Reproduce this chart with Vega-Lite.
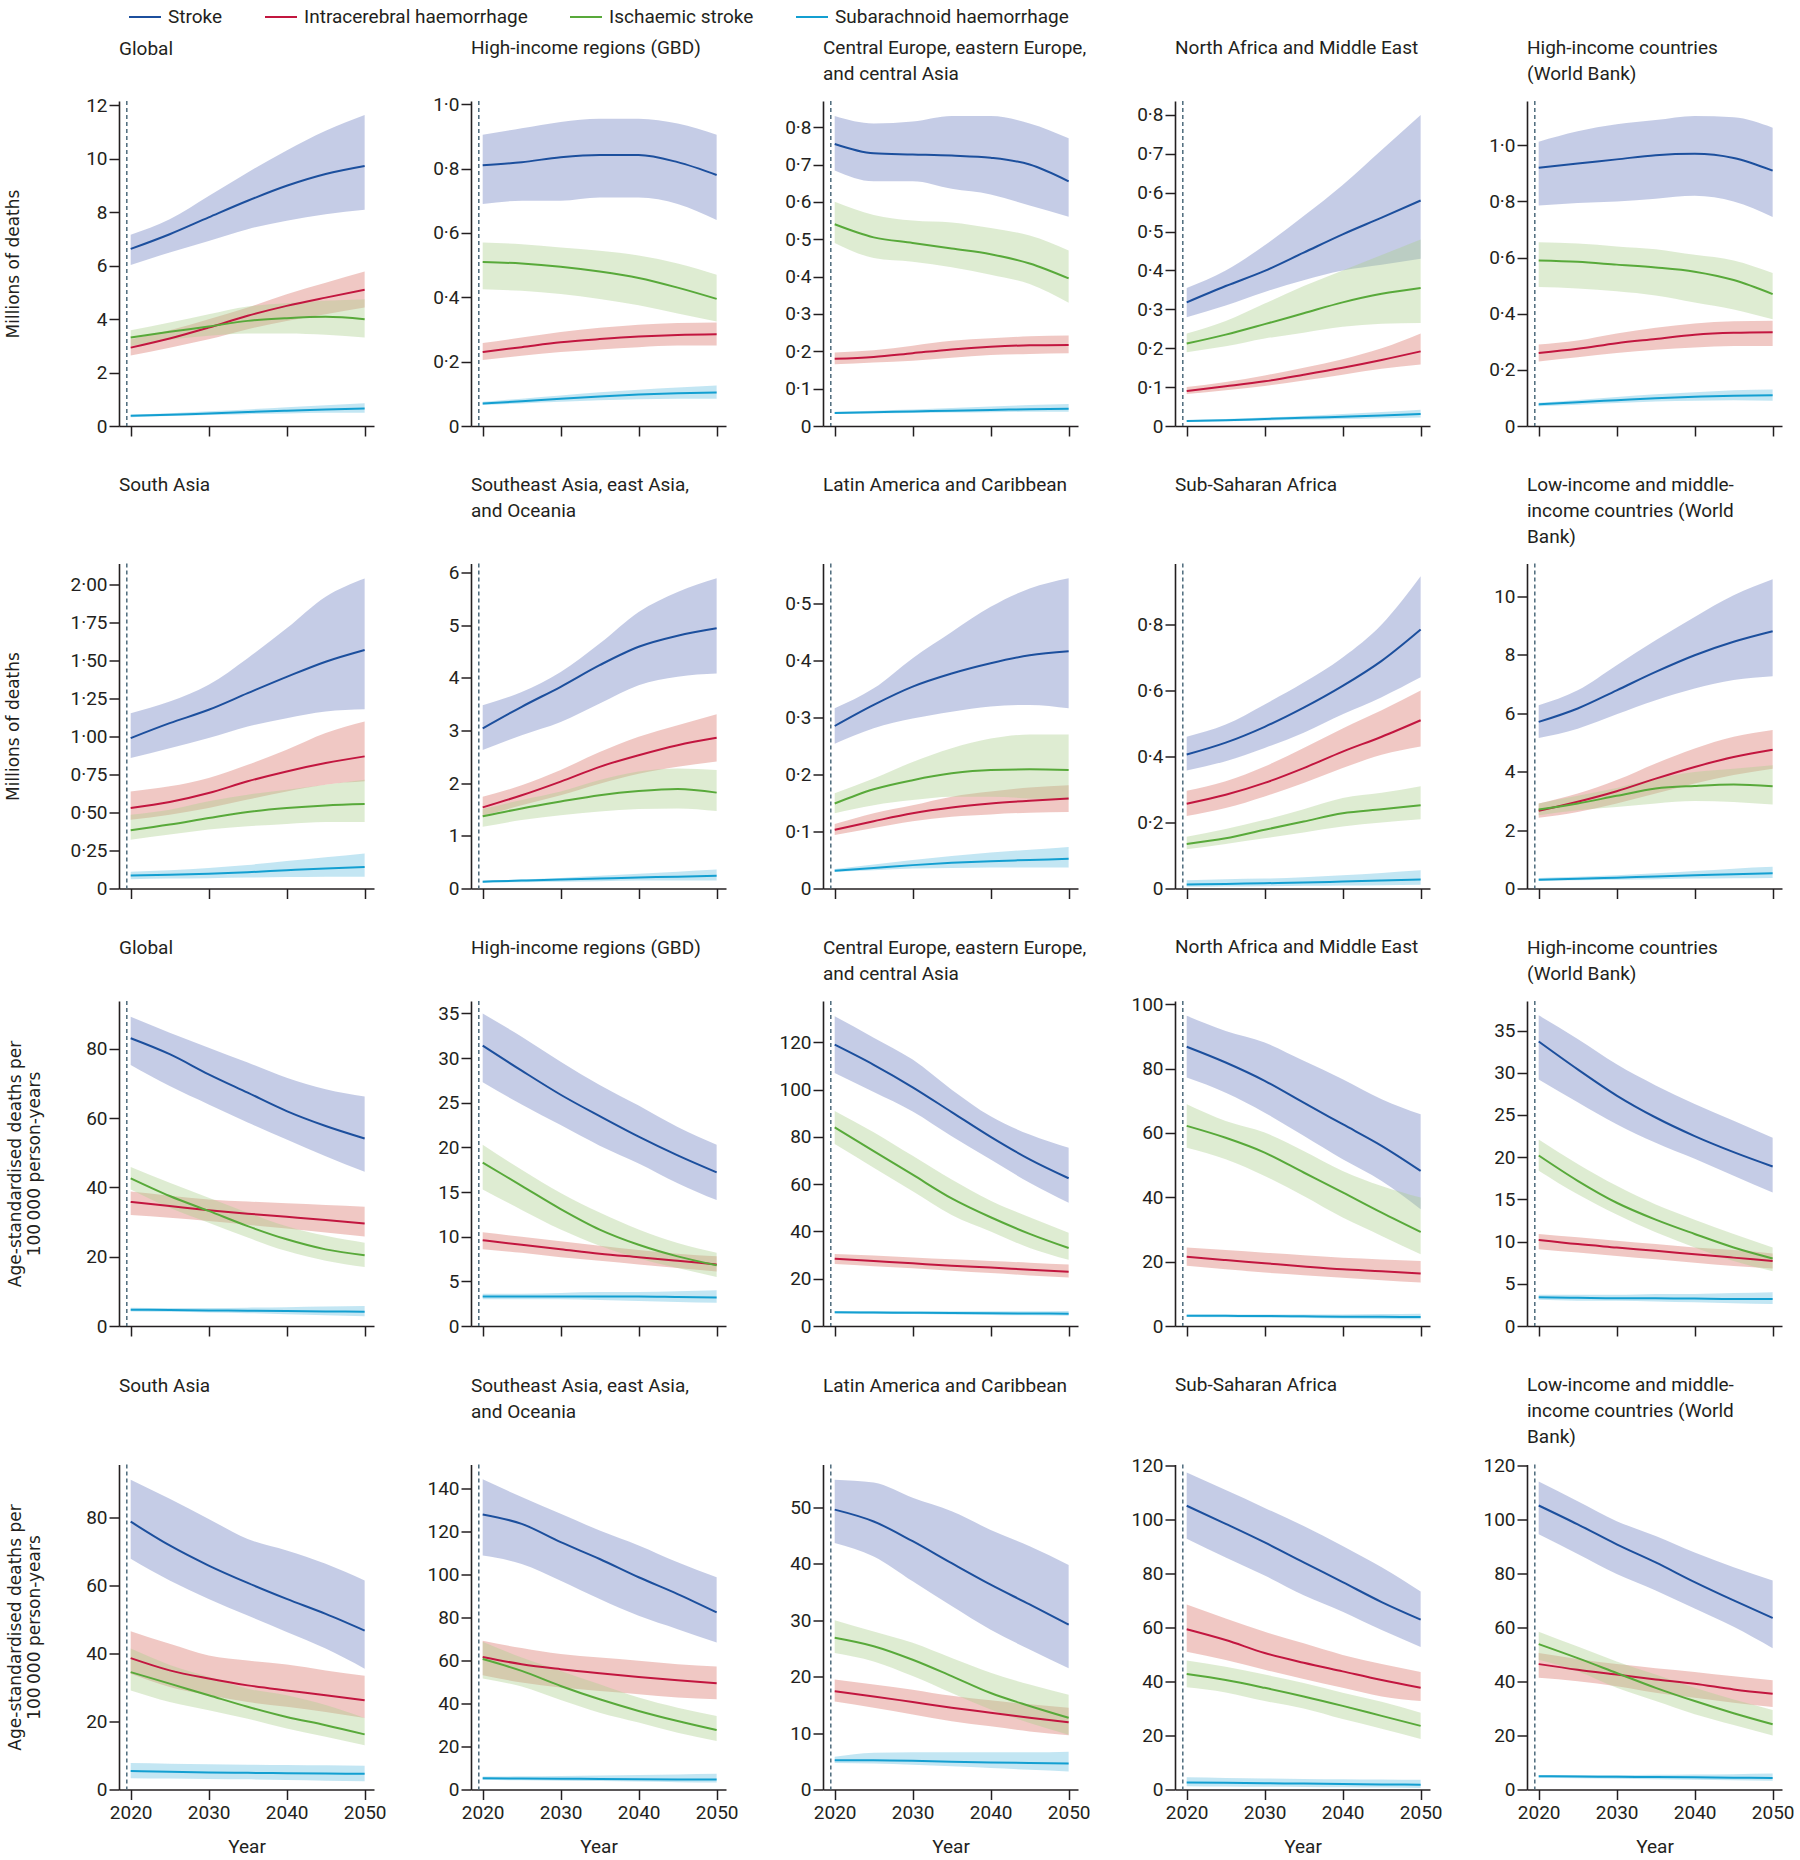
{
"$schema":"https://vega.github.io/schema/vega-lite/v6.json",
"padding":{"left":4,"top":0,"right":5,"bottom":0},
"data":{"values":[
{"panel":1,"cause":"Stroke","year":2020,"val":6.62,"lo":6.02,"hi":7.15},{"panel":1,"cause":"Stroke","year":2025,"val":7.17,"lo":6.49,"hi":7.73},{"panel":1,"cause":"Stroke","year":2030,"val":7.8,"lo":6.92,"hi":8.6},{"panel":1,"cause":"Stroke","year":2035,"val":8.42,"lo":7.36,"hi":9.48},{"panel":1,"cause":"Stroke","year":2040,"val":8.98,"lo":7.67,"hi":10.3},{"panel":1,"cause":"Stroke","year":2045,"val":9.42,"lo":7.92,"hi":11.04},{"panel":1,"cause":"Stroke","year":2050,"val":9.72,"lo":8.08,"hi":11.63},
{"panel":1,"cause":"Intracerebral haemorrhage","year":2020,"val":2.93,"lo":2.64,"hi":3.24},{"panel":1,"cause":"Intracerebral haemorrhage","year":2025,"val":3.27,"lo":2.93,"hi":3.58},{"panel":1,"cause":"Intracerebral haemorrhage","year":2030,"val":3.68,"lo":3.24,"hi":3.99},{"panel":1,"cause":"Intracerebral haemorrhage","year":2035,"val":4.12,"lo":3.62,"hi":4.43},{"panel":1,"cause":"Intracerebral haemorrhage","year":2040,"val":4.49,"lo":3.93,"hi":4.93},{"panel":1,"cause":"Intracerebral haemorrhage","year":2045,"val":4.8,"lo":4.18,"hi":5.36},{"panel":1,"cause":"Intracerebral haemorrhage","year":2050,"val":5.09,"lo":4.43,"hi":5.78},
{"panel":1,"cause":"Ischaemic stroke","year":2020,"val":3.31,"lo":2.99,"hi":3.58},{"panel":1,"cause":"Ischaemic stroke","year":2025,"val":3.52,"lo":3.22,"hi":3.87},{"panel":1,"cause":"Ischaemic stroke","year":2030,"val":3.72,"lo":3.37,"hi":4.18},{"panel":1,"cause":"Ischaemic stroke","year":2035,"val":3.93,"lo":3.46,"hi":4.47},{"panel":1,"cause":"Ischaemic stroke","year":2040,"val":4.03,"lo":3.46,"hi":4.59},{"panel":1,"cause":"Ischaemic stroke","year":2045,"val":4.08,"lo":3.41,"hi":4.68},{"panel":1,"cause":"Ischaemic stroke","year":2050,"val":3.99,"lo":3.31,"hi":4.74},
{"panel":1,"cause":"Subarachnoid haemorrhage","year":2020,"val":0.38,"lo":0.33,"hi":0.42},{"panel":1,"cause":"Subarachnoid haemorrhage","year":2025,"val":0.42,"lo":0.37,"hi":0.48},{"panel":1,"cause":"Subarachnoid haemorrhage","year":2030,"val":0.47,"lo":0.41,"hi":0.55},{"panel":1,"cause":"Subarachnoid haemorrhage","year":2035,"val":0.52,"lo":0.44,"hi":0.62},{"panel":1,"cause":"Subarachnoid haemorrhage","year":2040,"val":0.57,"lo":0.47,"hi":0.7},{"panel":1,"cause":"Subarachnoid haemorrhage","year":2045,"val":0.62,"lo":0.5,"hi":0.78},{"panel":1,"cause":"Subarachnoid haemorrhage","year":2050,"val":0.65,"lo":0.5,"hi":0.85},
{"panel":2,"cause":"Stroke","year":2020,"val":0.81,"lo":0.69,"hi":0.905},{"panel":2,"cause":"Stroke","year":2025,"val":0.82,"lo":0.7,"hi":0.925},{"panel":2,"cause":"Stroke","year":2030,"val":0.835,"lo":0.7,"hi":0.945},{"panel":2,"cause":"Stroke","year":2035,"val":0.842,"lo":0.71,"hi":0.955},{"panel":2,"cause":"Stroke","year":2040,"val":0.842,"lo":0.71,"hi":0.955},{"panel":2,"cause":"Stroke","year":2045,"val":0.82,"lo":0.69,"hi":0.94},{"panel":2,"cause":"Stroke","year":2050,"val":0.78,"lo":0.64,"hi":0.905},
{"panel":2,"cause":"Intracerebral haemorrhage","year":2020,"val":0.23,"lo":0.205,"hi":0.258},{"panel":2,"cause":"Intracerebral haemorrhage","year":2025,"val":0.245,"lo":0.218,"hi":0.275},{"panel":2,"cause":"Intracerebral haemorrhage","year":2030,"val":0.26,"lo":0.23,"hi":0.292},{"panel":2,"cause":"Intracerebral haemorrhage","year":2035,"val":0.27,"lo":0.238,"hi":0.305},{"panel":2,"cause":"Intracerebral haemorrhage","year":2040,"val":0.278,"lo":0.245,"hi":0.315},{"panel":2,"cause":"Intracerebral haemorrhage","year":2045,"val":0.283,"lo":0.25,"hi":0.32},{"panel":2,"cause":"Intracerebral haemorrhage","year":2050,"val":0.285,"lo":0.25,"hi":0.322},
{"panel":2,"cause":"Ischaemic stroke","year":2020,"val":0.51,"lo":0.425,"hi":0.57},{"panel":2,"cause":"Ischaemic stroke","year":2025,"val":0.505,"lo":0.42,"hi":0.565},{"panel":2,"cause":"Ischaemic stroke","year":2030,"val":0.495,"lo":0.41,"hi":0.555},{"panel":2,"cause":"Ischaemic stroke","year":2035,"val":0.48,"lo":0.395,"hi":0.545},{"panel":2,"cause":"Ischaemic stroke","year":2040,"val":0.46,"lo":0.375,"hi":0.53},{"panel":2,"cause":"Ischaemic stroke","year":2045,"val":0.43,"lo":0.35,"hi":0.505},{"panel":2,"cause":"Ischaemic stroke","year":2050,"val":0.395,"lo":0.325,"hi":0.47},
{"panel":2,"cause":"Subarachnoid haemorrhage","year":2020,"val":0.07,"lo":0.065,"hi":0.075},{"panel":2,"cause":"Subarachnoid haemorrhage","year":2025,"val":0.077,"lo":0.07,"hi":0.085},{"panel":2,"cause":"Subarachnoid haemorrhage","year":2030,"val":0.085,"lo":0.075,"hi":0.095},{"panel":2,"cause":"Subarachnoid haemorrhage","year":2035,"val":0.092,"lo":0.08,"hi":0.105},{"panel":2,"cause":"Subarachnoid haemorrhage","year":2040,"val":0.098,"lo":0.083,"hi":0.113},{"panel":2,"cause":"Subarachnoid haemorrhage","year":2045,"val":0.102,"lo":0.085,"hi":0.12},{"panel":2,"cause":"Subarachnoid haemorrhage","year":2050,"val":0.104,"lo":0.085,"hi":0.126},
{"panel":3,"cause":"Stroke","year":2020,"val":0.755,"lo":0.684,"hi":0.83},{"panel":3,"cause":"Stroke","year":2025,"val":0.73,"lo":0.655,"hi":0.81},{"panel":3,"cause":"Stroke","year":2030,"val":0.727,"lo":0.655,"hi":0.815},{"panel":3,"cause":"Stroke","year":2035,"val":0.724,"lo":0.635,"hi":0.83},{"panel":3,"cause":"Stroke","year":2040,"val":0.718,"lo":0.62,"hi":0.83},{"panel":3,"cause":"Stroke","year":2045,"val":0.7,"lo":0.59,"hi":0.81},{"panel":3,"cause":"Stroke","year":2050,"val":0.655,"lo":0.56,"hi":0.77},
{"panel":3,"cause":"Intracerebral haemorrhage","year":2020,"val":0.18,"lo":0.165,"hi":0.197},{"panel":3,"cause":"Intracerebral haemorrhage","year":2025,"val":0.185,"lo":0.17,"hi":0.203},{"panel":3,"cause":"Intracerebral haemorrhage","year":2030,"val":0.195,"lo":0.175,"hi":0.215},{"panel":3,"cause":"Intracerebral haemorrhage","year":2035,"val":0.205,"lo":0.183,"hi":0.228},{"panel":3,"cause":"Intracerebral haemorrhage","year":2040,"val":0.212,"lo":0.19,"hi":0.235},{"panel":3,"cause":"Intracerebral haemorrhage","year":2045,"val":0.216,"lo":0.193,"hi":0.24},{"panel":3,"cause":"Intracerebral haemorrhage","year":2050,"val":0.217,"lo":0.195,"hi":0.242},
{"panel":3,"cause":"Ischaemic stroke","year":2020,"val":0.54,"lo":0.49,"hi":0.6},{"panel":3,"cause":"Ischaemic stroke","year":2025,"val":0.505,"lo":0.45,"hi":0.565},{"panel":3,"cause":"Ischaemic stroke","year":2030,"val":0.49,"lo":0.44,"hi":0.55},{"panel":3,"cause":"Ischaemic stroke","year":2035,"val":0.475,"lo":0.425,"hi":0.545},{"panel":3,"cause":"Ischaemic stroke","year":2040,"val":0.46,"lo":0.405,"hi":0.53},{"panel":3,"cause":"Ischaemic stroke","year":2045,"val":0.435,"lo":0.38,"hi":0.51},{"panel":3,"cause":"Ischaemic stroke","year":2050,"val":0.395,"lo":0.33,"hi":0.47},
{"panel":3,"cause":"Subarachnoid haemorrhage","year":2020,"val":0.035,"lo":0.032,"hi":0.038},{"panel":3,"cause":"Subarachnoid haemorrhage","year":2025,"val":0.037,"lo":0.034,"hi":0.041},{"panel":3,"cause":"Subarachnoid haemorrhage","year":2030,"val":0.039,"lo":0.035,"hi":0.044},{"panel":3,"cause":"Subarachnoid haemorrhage","year":2035,"val":0.041,"lo":0.036,"hi":0.048},{"panel":3,"cause":"Subarachnoid haemorrhage","year":2040,"val":0.043,"lo":0.037,"hi":0.052},{"panel":3,"cause":"Subarachnoid haemorrhage","year":2045,"val":0.045,"lo":0.038,"hi":0.056},{"panel":3,"cause":"Subarachnoid haemorrhage","year":2050,"val":0.046,"lo":0.038,"hi":0.059},
{"panel":4,"cause":"Stroke","year":2020,"val":0.318,"lo":0.28,"hi":0.355},{"panel":4,"cause":"Stroke","year":2025,"val":0.36,"lo":0.31,"hi":0.4},{"panel":4,"cause":"Stroke","year":2030,"val":0.399,"lo":0.345,"hi":0.465},{"panel":4,"cause":"Stroke","year":2035,"val":0.446,"lo":0.375,"hi":0.54},{"panel":4,"cause":"Stroke","year":2040,"val":0.493,"lo":0.4,"hi":0.62},{"panel":4,"cause":"Stroke","year":2045,"val":0.536,"lo":0.415,"hi":0.71},{"panel":4,"cause":"Stroke","year":2050,"val":0.58,"lo":0.43,"hi":0.8},
{"panel":4,"cause":"Intracerebral haemorrhage","year":2020,"val":0.09,"lo":0.082,"hi":0.1},{"panel":4,"cause":"Intracerebral haemorrhage","year":2025,"val":0.102,"lo":0.092,"hi":0.113},{"panel":4,"cause":"Intracerebral haemorrhage","year":2030,"val":0.115,"lo":0.103,"hi":0.13},{"panel":4,"cause":"Intracerebral haemorrhage","year":2035,"val":0.132,"lo":0.117,"hi":0.15},{"panel":4,"cause":"Intracerebral haemorrhage","year":2040,"val":0.15,"lo":0.132,"hi":0.172},{"panel":4,"cause":"Intracerebral haemorrhage","year":2045,"val":0.17,"lo":0.147,"hi":0.2},{"panel":4,"cause":"Intracerebral haemorrhage","year":2050,"val":0.192,"lo":0.158,"hi":0.238},
{"panel":4,"cause":"Ischaemic stroke","year":2020,"val":0.212,"lo":0.19,"hi":0.238},{"panel":4,"cause":"Ischaemic stroke","year":2025,"val":0.235,"lo":0.205,"hi":0.27},{"panel":4,"cause":"Ischaemic stroke","year":2030,"val":0.262,"lo":0.225,"hi":0.315},{"panel":4,"cause":"Ischaemic stroke","year":2035,"val":0.29,"lo":0.24,"hi":0.36},{"panel":4,"cause":"Ischaemic stroke","year":2040,"val":0.318,"lo":0.255,"hi":0.4},{"panel":4,"cause":"Ischaemic stroke","year":2045,"val":0.34,"lo":0.263,"hi":0.44},{"panel":4,"cause":"Ischaemic stroke","year":2050,"val":0.355,"lo":0.265,"hi":0.48},
{"panel":4,"cause":"Subarachnoid haemorrhage","year":2020,"val":0.013,"lo":0.011,"hi":0.015},{"panel":4,"cause":"Subarachnoid haemorrhage","year":2025,"val":0.015,"lo":0.012,"hi":0.018},{"panel":4,"cause":"Subarachnoid haemorrhage","year":2030,"val":0.018,"lo":0.014,"hi":0.022},{"panel":4,"cause":"Subarachnoid haemorrhage","year":2035,"val":0.021,"lo":0.016,"hi":0.026},{"panel":4,"cause":"Subarachnoid haemorrhage","year":2040,"val":0.024,"lo":0.018,"hi":0.031},{"panel":4,"cause":"Subarachnoid haemorrhage","year":2045,"val":0.027,"lo":0.02,"hi":0.036},{"panel":4,"cause":"Subarachnoid haemorrhage","year":2050,"val":0.031,"lo":0.022,"hi":0.042},
{"panel":5,"cause":"Stroke","year":2020,"val":0.92,"lo":0.786,"hi":1.013},{"panel":5,"cause":"Stroke","year":2025,"val":0.935,"lo":0.795,"hi":1.05},{"panel":5,"cause":"Stroke","year":2030,"val":0.95,"lo":0.8,"hi":1.075},{"panel":5,"cause":"Stroke","year":2035,"val":0.965,"lo":0.81,"hi":1.09},{"panel":5,"cause":"Stroke","year":2040,"val":0.97,"lo":0.82,"hi":1.105},{"panel":5,"cause":"Stroke","year":2045,"val":0.955,"lo":0.8,"hi":1.1},{"panel":5,"cause":"Stroke","year":2050,"val":0.91,"lo":0.745,"hi":1.063},
{"panel":5,"cause":"Intracerebral haemorrhage","year":2020,"val":0.26,"lo":0.23,"hi":0.29},{"panel":5,"cause":"Intracerebral haemorrhage","year":2025,"val":0.275,"lo":0.245,"hi":0.305},{"panel":5,"cause":"Intracerebral haemorrhage","year":2030,"val":0.295,"lo":0.26,"hi":0.33},{"panel":5,"cause":"Intracerebral haemorrhage","year":2035,"val":0.31,"lo":0.272,"hi":0.35},{"panel":5,"cause":"Intracerebral haemorrhage","year":2040,"val":0.325,"lo":0.28,"hi":0.365},{"panel":5,"cause":"Intracerebral haemorrhage","year":2045,"val":0.332,"lo":0.285,"hi":0.373},{"panel":5,"cause":"Intracerebral haemorrhage","year":2050,"val":0.334,"lo":0.285,"hi":0.375},
{"panel":5,"cause":"Ischaemic stroke","year":2020,"val":0.59,"lo":0.495,"hi":0.655},{"panel":5,"cause":"Ischaemic stroke","year":2025,"val":0.585,"lo":0.49,"hi":0.65},{"panel":5,"cause":"Ischaemic stroke","year":2030,"val":0.575,"lo":0.48,"hi":0.64},{"panel":5,"cause":"Ischaemic stroke","year":2035,"val":0.565,"lo":0.465,"hi":0.63},{"panel":5,"cause":"Ischaemic stroke","year":2040,"val":0.55,"lo":0.44,"hi":0.61},{"panel":5,"cause":"Ischaemic stroke","year":2045,"val":0.52,"lo":0.415,"hi":0.59},{"panel":5,"cause":"Ischaemic stroke","year":2050,"val":0.47,"lo":0.38,"hi":0.545},
{"panel":5,"cause":"Subarachnoid haemorrhage","year":2020,"val":0.077,"lo":0.07,"hi":0.083},{"panel":5,"cause":"Subarachnoid haemorrhage","year":2025,"val":0.085,"lo":0.076,"hi":0.093},{"panel":5,"cause":"Subarachnoid haemorrhage","year":2030,"val":0.092,"lo":0.082,"hi":0.103},{"panel":5,"cause":"Subarachnoid haemorrhage","year":2035,"val":0.099,"lo":0.087,"hi":0.113},{"panel":5,"cause":"Subarachnoid haemorrhage","year":2040,"val":0.104,"lo":0.09,"hi":0.12},{"panel":5,"cause":"Subarachnoid haemorrhage","year":2045,"val":0.108,"lo":0.092,"hi":0.127},{"panel":5,"cause":"Subarachnoid haemorrhage","year":2050,"val":0.11,"lo":0.09,"hi":0.13},
{"panel":6,"cause":"Stroke","year":2020,"val":0.988,"lo":0.857,"hi":1.152},{"panel":6,"cause":"Stroke","year":2025,"val":1.086,"lo":0.922,"hi":1.228},{"panel":6,"cause":"Stroke","year":2030,"val":1.174,"lo":0.988,"hi":1.338},{"panel":6,"cause":"Stroke","year":2035,"val":1.283,"lo":1.064,"hi":1.513},{"panel":6,"cause":"Stroke","year":2040,"val":1.39,"lo":1.119,"hi":1.709},{"panel":6,"cause":"Stroke","year":2045,"val":1.49,"lo":1.163,"hi":1.917},{"panel":6,"cause":"Stroke","year":2050,"val":1.567,"lo":1.178,"hi":2.037},
{"panel":6,"cause":"Intracerebral haemorrhage","year":2020,"val":0.529,"lo":0.452,"hi":0.638},{"panel":6,"cause":"Intracerebral haemorrhage","year":2025,"val":0.568,"lo":0.485,"hi":0.671},{"panel":6,"cause":"Intracerebral haemorrhage","year":2030,"val":0.627,"lo":0.529,"hi":0.726},{"panel":6,"cause":"Intracerebral haemorrhage","year":2035,"val":0.704,"lo":0.584,"hi":0.813},{"panel":6,"cause":"Intracerebral haemorrhage","year":2040,"val":0.769,"lo":0.638,"hi":0.911},{"panel":6,"cause":"Intracerebral haemorrhage","year":2045,"val":0.824,"lo":0.682,"hi":1.021},{"panel":6,"cause":"Intracerebral haemorrhage","year":2050,"val":0.868,"lo":0.704,"hi":1.097},
{"panel":6,"cause":"Ischaemic stroke","year":2020,"val":0.383,"lo":0.321,"hi":0.485},{"panel":6,"cause":"Ischaemic stroke","year":2025,"val":0.42,"lo":0.354,"hi":0.518},{"panel":6,"cause":"Ischaemic stroke","year":2030,"val":0.463,"lo":0.387,"hi":0.573},{"panel":6,"cause":"Ischaemic stroke","year":2035,"val":0.503,"lo":0.409,"hi":0.616},{"panel":6,"cause":"Ischaemic stroke","year":2040,"val":0.529,"lo":0.424,"hi":0.649},{"panel":6,"cause":"Ischaemic stroke","year":2045,"val":0.546,"lo":0.437,"hi":0.682},{"panel":6,"cause":"Ischaemic stroke","year":2050,"val":0.555,"lo":0.437,"hi":0.715},
{"panel":6,"cause":"Subarachnoid haemorrhage","year":2020,"val":0.085,"lo":0.06,"hi":0.11},{"panel":6,"cause":"Subarachnoid haemorrhage","year":2025,"val":0.09,"lo":0.065,"hi":0.12},{"panel":6,"cause":"Subarachnoid haemorrhage","year":2030,"val":0.097,"lo":0.068,"hi":0.135},{"panel":6,"cause":"Subarachnoid haemorrhage","year":2035,"val":0.107,"lo":0.072,"hi":0.155},{"panel":6,"cause":"Subarachnoid haemorrhage","year":2040,"val":0.12,"lo":0.075,"hi":0.18},{"panel":6,"cause":"Subarachnoid haemorrhage","year":2045,"val":0.132,"lo":0.077,"hi":0.205},{"panel":6,"cause":"Subarachnoid haemorrhage","year":2050,"val":0.142,"lo":0.078,"hi":0.23},
{"panel":7,"cause":"Stroke","year":2020,"val":3.04,"lo":2.63,"hi":3.48},{"panel":7,"cause":"Stroke","year":2025,"val":3.45,"lo":2.91,"hi":3.73},{"panel":7,"cause":"Stroke","year":2030,"val":3.83,"lo":3.16,"hi":4.11},{"panel":7,"cause":"Stroke","year":2035,"val":4.24,"lo":3.51,"hi":4.65},{"panel":7,"cause":"Stroke","year":2040,"val":4.59,"lo":3.86,"hi":5.25},{"panel":7,"cause":"Stroke","year":2045,"val":4.8,"lo":4.02,"hi":5.63},{"panel":7,"cause":"Stroke","year":2050,"val":4.94,"lo":4.08,"hi":5.89},
{"panel":7,"cause":"Intracerebral haemorrhage","year":2020,"val":1.54,"lo":1.38,"hi":1.74},{"panel":7,"cause":"Intracerebral haemorrhage","year":2025,"val":1.77,"lo":1.58,"hi":1.96},{"panel":7,"cause":"Intracerebral haemorrhage","year":2030,"val":2.03,"lo":1.77,"hi":2.25},{"panel":7,"cause":"Intracerebral haemorrhage","year":2035,"val":2.31,"lo":1.99,"hi":2.59},{"panel":7,"cause":"Intracerebral haemorrhage","year":2040,"val":2.53,"lo":2.18,"hi":2.88},{"panel":7,"cause":"Intracerebral haemorrhage","year":2045,"val":2.72,"lo":2.31,"hi":3.1},{"panel":7,"cause":"Intracerebral haemorrhage","year":2050,"val":2.86,"lo":2.41,"hi":3.31},
{"panel":7,"cause":"Ischaemic stroke","year":2020,"val":1.37,"lo":1.17,"hi":1.51},{"panel":7,"cause":"Ischaemic stroke","year":2025,"val":1.52,"lo":1.3,"hi":1.68},{"panel":7,"cause":"Ischaemic stroke","year":2030,"val":1.65,"lo":1.39,"hi":1.84},{"panel":7,"cause":"Ischaemic stroke","year":2035,"val":1.77,"lo":1.46,"hi":2.06},{"panel":7,"cause":"Ischaemic stroke","year":2040,"val":1.85,"lo":1.51,"hi":2.22},{"panel":7,"cause":"Ischaemic stroke","year":2045,"val":1.89,"lo":1.52,"hi":2.28},{"panel":7,"cause":"Ischaemic stroke","year":2050,"val":1.82,"lo":1.47,"hi":2.25},
{"panel":7,"cause":"Subarachnoid haemorrhage","year":2020,"val":0.13,"lo":0.11,"hi":0.15},{"panel":7,"cause":"Subarachnoid haemorrhage","year":2025,"val":0.15,"lo":0.12,"hi":0.17},{"panel":7,"cause":"Subarachnoid haemorrhage","year":2030,"val":0.17,"lo":0.13,"hi":0.2},{"panel":7,"cause":"Subarachnoid haemorrhage","year":2035,"val":0.19,"lo":0.14,"hi":0.24},{"panel":7,"cause":"Subarachnoid haemorrhage","year":2040,"val":0.21,"lo":0.15,"hi":0.28},{"panel":7,"cause":"Subarachnoid haemorrhage","year":2045,"val":0.225,"lo":0.15,"hi":0.32},{"panel":7,"cause":"Subarachnoid haemorrhage","year":2050,"val":0.24,"lo":0.15,"hi":0.36},
{"panel":8,"cause":"Stroke","year":2020,"val":0.285,"lo":0.254,"hi":0.316},{"panel":8,"cause":"Stroke","year":2025,"val":0.322,"lo":0.281,"hi":0.351},{"panel":8,"cause":"Stroke","year":2030,"val":0.354,"lo":0.298,"hi":0.404},{"panel":8,"cause":"Stroke","year":2035,"val":0.377,"lo":0.31,"hi":0.45},{"panel":8,"cause":"Stroke","year":2040,"val":0.395,"lo":0.319,"hi":0.494},{"panel":8,"cause":"Stroke","year":2045,"val":0.409,"lo":0.322,"hi":0.526},{"panel":8,"cause":"Stroke","year":2050,"val":0.416,"lo":0.316,"hi":0.544},
{"panel":8,"cause":"Intracerebral haemorrhage","year":2020,"val":0.103,"lo":0.094,"hi":0.113},{"panel":8,"cause":"Intracerebral haemorrhage","year":2025,"val":0.118,"lo":0.106,"hi":0.132},{"panel":8,"cause":"Intracerebral haemorrhage","year":2030,"val":0.132,"lo":0.118,"hi":0.146},{"panel":8,"cause":"Intracerebral haemorrhage","year":2035,"val":0.142,"lo":0.126,"hi":0.161},{"panel":8,"cause":"Intracerebral haemorrhage","year":2040,"val":0.149,"lo":0.13,"hi":0.17},{"panel":8,"cause":"Intracerebral haemorrhage","year":2045,"val":0.154,"lo":0.133,"hi":0.177},{"panel":8,"cause":"Intracerebral haemorrhage","year":2050,"val":0.158,"lo":0.134,"hi":0.181},
{"panel":8,"cause":"Ischaemic stroke","year":2020,"val":0.149,"lo":0.132,"hi":0.167},{"panel":8,"cause":"Ischaemic stroke","year":2025,"val":0.174,"lo":0.146,"hi":0.193},{"panel":8,"cause":"Ischaemic stroke","year":2030,"val":0.19,"lo":0.155,"hi":0.222},{"panel":8,"cause":"Ischaemic stroke","year":2035,"val":0.202,"lo":0.161,"hi":0.246},{"panel":8,"cause":"Ischaemic stroke","year":2040,"val":0.208,"lo":0.161,"hi":0.263},{"panel":8,"cause":"Ischaemic stroke","year":2045,"val":0.209,"lo":0.158,"hi":0.27},{"panel":8,"cause":"Ischaemic stroke","year":2050,"val":0.208,"lo":0.155,"hi":0.27},
{"panel":8,"cause":"Subarachnoid haemorrhage","year":2020,"val":0.031,"lo":0.029,"hi":0.034},{"panel":8,"cause":"Subarachnoid haemorrhage","year":2025,"val":0.036,"lo":0.032,"hi":0.042},{"panel":8,"cause":"Subarachnoid haemorrhage","year":2030,"val":0.041,"lo":0.035,"hi":0.05},{"panel":8,"cause":"Subarachnoid haemorrhage","year":2035,"val":0.045,"lo":0.036,"hi":0.057},{"panel":8,"cause":"Subarachnoid haemorrhage","year":2040,"val":0.048,"lo":0.037,"hi":0.063},{"panel":8,"cause":"Subarachnoid haemorrhage","year":2045,"val":0.05,"lo":0.037,"hi":0.068},{"panel":8,"cause":"Subarachnoid haemorrhage","year":2050,"val":0.052,"lo":0.037,"hi":0.073},
{"panel":9,"cause":"Stroke","year":2020,"val":0.406,"lo":0.358,"hi":0.46},{"panel":9,"cause":"Stroke","year":2025,"val":0.442,"lo":0.386,"hi":0.497},{"panel":9,"cause":"Stroke","year":2030,"val":0.49,"lo":0.426,"hi":0.558},{"panel":9,"cause":"Stroke","year":2035,"val":0.548,"lo":0.472,"hi":0.624},{"panel":9,"cause":"Stroke","year":2040,"val":0.614,"lo":0.528,"hi":0.7},{"panel":9,"cause":"Stroke","year":2045,"val":0.69,"lo":0.58,"hi":0.8},{"panel":9,"cause":"Stroke","year":2050,"val":0.785,"lo":0.64,"hi":0.946},
{"panel":9,"cause":"Intracerebral haemorrhage","year":2020,"val":0.257,"lo":0.22,"hi":0.296},{"panel":9,"cause":"Intracerebral haemorrhage","year":2025,"val":0.284,"lo":0.244,"hi":0.325},{"panel":9,"cause":"Intracerebral haemorrhage","year":2030,"val":0.32,"lo":0.279,"hi":0.37},{"panel":9,"cause":"Intracerebral haemorrhage","year":2035,"val":0.365,"lo":0.32,"hi":0.426},{"panel":9,"cause":"Intracerebral haemorrhage","year":2040,"val":0.415,"lo":0.365,"hi":0.485},{"panel":9,"cause":"Intracerebral haemorrhage","year":2045,"val":0.46,"lo":0.405,"hi":0.54},{"panel":9,"cause":"Intracerebral haemorrhage","year":2050,"val":0.51,"lo":0.43,"hi":0.6},
{"panel":9,"cause":"Ischaemic stroke","year":2020,"val":0.135,"lo":0.119,"hi":0.157},{"panel":9,"cause":"Ischaemic stroke","year":2025,"val":0.152,"lo":0.135,"hi":0.18},{"panel":9,"cause":"Ischaemic stroke","year":2030,"val":0.178,"lo":0.152,"hi":0.208},{"panel":9,"cause":"Ischaemic stroke","year":2035,"val":0.203,"lo":0.17,"hi":0.24},{"panel":9,"cause":"Ischaemic stroke","year":2040,"val":0.228,"lo":0.188,"hi":0.274},{"panel":9,"cause":"Ischaemic stroke","year":2045,"val":0.24,"lo":0.2,"hi":0.29},{"panel":9,"cause":"Ischaemic stroke","year":2050,"val":0.252,"lo":0.21,"hi":0.31},
{"panel":9,"cause":"Subarachnoid haemorrhage","year":2020,"val":0.012,"lo":0.005,"hi":0.025},{"panel":9,"cause":"Subarachnoid haemorrhage","year":2025,"val":0.014,"lo":0.006,"hi":0.028},{"panel":9,"cause":"Subarachnoid haemorrhage","year":2030,"val":0.016,"lo":0.007,"hi":0.03},{"panel":9,"cause":"Subarachnoid haemorrhage","year":2035,"val":0.018,"lo":0.008,"hi":0.034},{"panel":9,"cause":"Subarachnoid haemorrhage","year":2040,"val":0.021,"lo":0.009,"hi":0.04},{"panel":9,"cause":"Subarachnoid haemorrhage","year":2045,"val":0.024,"lo":0.01,"hi":0.047},{"panel":9,"cause":"Subarachnoid haemorrhage","year":2050,"val":0.027,"lo":0.011,"hi":0.055},
{"panel":10,"cause":"Stroke","year":2020,"val":5.7,"lo":5.15,"hi":6.27},{"panel":10,"cause":"Stroke","year":2025,"val":6.16,"lo":5.47,"hi":6.78},{"panel":10,"cause":"Stroke","year":2030,"val":6.78,"lo":5.96,"hi":7.64},{"panel":10,"cause":"Stroke","year":2035,"val":7.41,"lo":6.44,"hi":8.49},{"panel":10,"cause":"Stroke","year":2040,"val":7.98,"lo":6.84,"hi":9.29},{"panel":10,"cause":"Stroke","year":2045,"val":8.44,"lo":7.13,"hi":10.03},{"panel":10,"cause":"Stroke","year":2050,"val":8.8,"lo":7.26,"hi":10.58},
{"panel":10,"cause":"Intracerebral haemorrhage","year":2020,"val":2.66,"lo":2.42,"hi":2.91},{"panel":10,"cause":"Intracerebral haemorrhage","year":2025,"val":2.97,"lo":2.62,"hi":3.25},{"panel":10,"cause":"Intracerebral haemorrhage","year":2030,"val":3.33,"lo":2.91,"hi":3.71},{"panel":10,"cause":"Intracerebral haemorrhage","year":2035,"val":3.76,"lo":3.25,"hi":4.28},{"panel":10,"cause":"Intracerebral haemorrhage","year":2040,"val":4.16,"lo":3.59,"hi":4.79},{"panel":10,"cause":"Intracerebral haemorrhage","year":2045,"val":4.5,"lo":3.88,"hi":5.19},{"panel":10,"cause":"Intracerebral haemorrhage","year":2050,"val":4.75,"lo":4.1,"hi":5.42},
{"panel":10,"cause":"Ischaemic stroke","year":2020,"val":2.7,"lo":2.51,"hi":2.91},{"panel":10,"cause":"Ischaemic stroke","year":2025,"val":2.91,"lo":2.68,"hi":3.17},{"panel":10,"cause":"Ischaemic stroke","year":2030,"val":3.17,"lo":2.79,"hi":3.44},{"panel":10,"cause":"Ischaemic stroke","year":2035,"val":3.42,"lo":2.91,"hi":3.76},{"panel":10,"cause":"Ischaemic stroke","year":2040,"val":3.51,"lo":2.99,"hi":3.99},{"panel":10,"cause":"Ischaemic stroke","year":2045,"val":3.56,"lo":2.96,"hi":4.1},{"panel":10,"cause":"Ischaemic stroke","year":2050,"val":3.5,"lo":2.87,"hi":4.22},
{"panel":10,"cause":"Subarachnoid haemorrhage","year":2020,"val":0.3,"lo":0.26,"hi":0.36},{"panel":10,"cause":"Subarachnoid haemorrhage","year":2025,"val":0.33,"lo":0.28,"hi":0.4},{"panel":10,"cause":"Subarachnoid haemorrhage","year":2030,"val":0.37,"lo":0.3,"hi":0.45},{"panel":10,"cause":"Subarachnoid haemorrhage","year":2035,"val":0.41,"lo":0.32,"hi":0.52},{"panel":10,"cause":"Subarachnoid haemorrhage","year":2040,"val":0.45,"lo":0.34,"hi":0.6},{"panel":10,"cause":"Subarachnoid haemorrhage","year":2045,"val":0.49,"lo":0.35,"hi":0.68},{"panel":10,"cause":"Subarachnoid haemorrhage","year":2050,"val":0.52,"lo":0.36,"hi":0.74},
{"panel":11,"cause":"Stroke","year":2020,"val":83.0,"lo":75.3,"hi":89.2},{"panel":11,"cause":"Stroke","year":2025,"val":78.4,"lo":69.2,"hi":84.6},{"panel":11,"cause":"Stroke","year":2030,"val":72.6,"lo":63.9,"hi":80.3},{"panel":11,"cause":"Stroke","year":2035,"val":67.3,"lo":58.7,"hi":76.0},{"panel":11,"cause":"Stroke","year":2040,"val":62.0,"lo":53.8,"hi":71.6},{"panel":11,"cause":"Stroke","year":2045,"val":57.7,"lo":49.0,"hi":68.3},{"panel":11,"cause":"Stroke","year":2050,"val":54.1,"lo":44.5,"hi":66.2},
{"panel":11,"cause":"Intracerebral haemorrhage","year":2020,"val":35.8,"lo":32.0,"hi":38.8},{"panel":11,"cause":"Intracerebral haemorrhage","year":2025,"val":34.6,"lo":31.2,"hi":37.6},{"panel":11,"cause":"Intracerebral haemorrhage","year":2030,"val":33.4,"lo":30.3,"hi":36.5},{"panel":11,"cause":"Intracerebral haemorrhage","year":2035,"val":32.4,"lo":29.2,"hi":35.9},{"panel":11,"cause":"Intracerebral haemorrhage","year":2040,"val":31.5,"lo":28.1,"hi":35.4},{"panel":11,"cause":"Intracerebral haemorrhage","year":2045,"val":30.6,"lo":27.0,"hi":34.9},{"panel":11,"cause":"Intracerebral haemorrhage","year":2050,"val":29.6,"lo":25.8,"hi":34.4},
{"panel":11,"cause":"Ischaemic stroke","year":2020,"val":42.6,"lo":39.4,"hi":45.9},{"panel":11,"cause":"Ischaemic stroke","year":2025,"val":37.5,"lo":34.1,"hi":41.3},{"panel":11,"cause":"Ischaemic stroke","year":2030,"val":33.2,"lo":29.8,"hi":37.0},{"panel":11,"cause":"Ischaemic stroke","year":2035,"val":28.8,"lo":25.5,"hi":32.7},{"panel":11,"cause":"Ischaemic stroke","year":2040,"val":25.0,"lo":21.6,"hi":28.8},{"panel":11,"cause":"Ischaemic stroke","year":2045,"val":22.1,"lo":18.8,"hi":26.0},{"panel":11,"cause":"Ischaemic stroke","year":2050,"val":20.4,"lo":17.0,"hi":24.0},
{"panel":11,"cause":"Subarachnoid haemorrhage","year":2020,"val":4.7,"lo":4.2,"hi":5.3},{"panel":11,"cause":"Subarachnoid haemorrhage","year":2025,"val":4.6,"lo":4.1,"hi":5.2},{"panel":11,"cause":"Subarachnoid haemorrhage","year":2030,"val":4.5,"lo":3.9,"hi":5.2},{"panel":11,"cause":"Subarachnoid haemorrhage","year":2035,"val":4.4,"lo":3.7,"hi":5.3},{"panel":11,"cause":"Subarachnoid haemorrhage","year":2040,"val":4.3,"lo":3.4,"hi":5.4},{"panel":11,"cause":"Subarachnoid haemorrhage","year":2045,"val":4.2,"lo":3.1,"hi":5.6},{"panel":11,"cause":"Subarachnoid haemorrhage","year":2050,"val":4.1,"lo":2.8,"hi":5.8},
{"panel":12,"cause":"Stroke","year":2020,"val":31.4,"lo":27.3,"hi":35.0},{"panel":12,"cause":"Stroke","year":2025,"val":28.6,"lo":24.8,"hi":32.4},{"panel":12,"cause":"Stroke","year":2030,"val":25.9,"lo":22.5,"hi":29.6},{"panel":12,"cause":"Stroke","year":2035,"val":23.5,"lo":20.2,"hi":27.0},{"panel":12,"cause":"Stroke","year":2040,"val":21.2,"lo":18.2,"hi":24.7},{"panel":12,"cause":"Stroke","year":2045,"val":19.1,"lo":16.0,"hi":22.3},{"panel":12,"cause":"Stroke","year":2050,"val":17.2,"lo":14.1,"hi":20.3},
{"panel":12,"cause":"Intracerebral haemorrhage","year":2020,"val":9.6,"lo":8.6,"hi":10.5},{"panel":12,"cause":"Intracerebral haemorrhage","year":2025,"val":9.1,"lo":8.2,"hi":10.0},{"panel":12,"cause":"Intracerebral haemorrhage","year":2030,"val":8.6,"lo":7.7,"hi":9.5},{"panel":12,"cause":"Intracerebral haemorrhage","year":2035,"val":8.1,"lo":7.3,"hi":9.0},{"panel":12,"cause":"Intracerebral haemorrhage","year":2040,"val":7.7,"lo":6.9,"hi":8.5},{"panel":12,"cause":"Intracerebral haemorrhage","year":2045,"val":7.3,"lo":6.5,"hi":8.1},{"panel":12,"cause":"Intracerebral haemorrhage","year":2050,"val":6.9,"lo":6.1,"hi":7.8},
{"panel":12,"cause":"Ischaemic stroke","year":2020,"val":18.3,"lo":15.3,"hi":20.3},{"panel":12,"cause":"Ischaemic stroke","year":2025,"val":15.7,"lo":13.0,"hi":17.5},{"panel":12,"cause":"Ischaemic stroke","year":2030,"val":13.1,"lo":10.8,"hi":14.9},{"panel":12,"cause":"Ischaemic stroke","year":2035,"val":10.8,"lo":9.0,"hi":12.7},{"panel":12,"cause":"Ischaemic stroke","year":2040,"val":9.1,"lo":7.6,"hi":10.8},{"panel":12,"cause":"Ischaemic stroke","year":2045,"val":7.8,"lo":6.5,"hi":9.3},{"panel":12,"cause":"Ischaemic stroke","year":2050,"val":6.8,"lo":5.5,"hi":8.2},
{"panel":12,"cause":"Subarachnoid haemorrhage","year":2020,"val":3.3,"lo":3.0,"hi":3.6},{"panel":12,"cause":"Subarachnoid haemorrhage","year":2025,"val":3.3,"lo":3.0,"hi":3.6},{"panel":12,"cause":"Subarachnoid haemorrhage","year":2030,"val":3.3,"lo":3.0,"hi":3.7},{"panel":12,"cause":"Subarachnoid haemorrhage","year":2035,"val":3.3,"lo":2.9,"hi":3.8},{"panel":12,"cause":"Subarachnoid haemorrhage","year":2040,"val":3.3,"lo":2.8,"hi":3.8},{"panel":12,"cause":"Subarachnoid haemorrhage","year":2045,"val":3.25,"lo":2.7,"hi":3.9},{"panel":12,"cause":"Subarachnoid haemorrhage","year":2050,"val":3.2,"lo":2.6,"hi":4.0},
{"panel":13,"cause":"Stroke","year":2020,"val":119,"lo":107,"hi":131},{"panel":13,"cause":"Stroke","year":2025,"val":110.5,"lo":99,"hi":122},{"panel":13,"cause":"Stroke","year":2030,"val":101,"lo":90.8,"hi":112.7},{"panel":13,"cause":"Stroke","year":2035,"val":90.5,"lo":80.3,"hi":100},{"panel":13,"cause":"Stroke","year":2040,"val":80,"lo":70.4,"hi":88.7},{"panel":13,"cause":"Stroke","year":2045,"val":70.5,"lo":60.6,"hi":81},{"panel":13,"cause":"Stroke","year":2050,"val":62.5,"lo":52.1,"hi":75.4},
{"panel":13,"cause":"Intracerebral haemorrhage","year":2020,"val":28.5,"lo":26.2,"hi":30.5},{"panel":13,"cause":"Intracerebral haemorrhage","year":2025,"val":27.5,"lo":25.3,"hi":29.8},{"panel":13,"cause":"Intracerebral haemorrhage","year":2030,"val":26.5,"lo":24.4,"hi":29},{"panel":13,"cause":"Intracerebral haemorrhage","year":2035,"val":25.5,"lo":23.4,"hi":28.2},{"panel":13,"cause":"Intracerebral haemorrhage","year":2040,"val":24.7,"lo":22.4,"hi":27.5},{"panel":13,"cause":"Intracerebral haemorrhage","year":2045,"val":23.8,"lo":21.4,"hi":26.8},{"panel":13,"cause":"Intracerebral haemorrhage","year":2050,"val":23.0,"lo":20.5,"hi":26},
{"panel":13,"cause":"Ischaemic stroke","year":2020,"val":84,"lo":77,"hi":91},{"panel":13,"cause":"Ischaemic stroke","year":2025,"val":74,"lo":67,"hi":82},{"panel":13,"cause":"Ischaemic stroke","year":2030,"val":64,"lo":57,"hi":72},{"panel":13,"cause":"Ischaemic stroke","year":2035,"val":54,"lo":47,"hi":62},{"panel":13,"cause":"Ischaemic stroke","year":2040,"val":46,"lo":40,"hi":53},{"panel":13,"cause":"Ischaemic stroke","year":2045,"val":39,"lo":33,"hi":46},{"panel":13,"cause":"Ischaemic stroke","year":2050,"val":33,"lo":28,"hi":39.5},
{"panel":13,"cause":"Subarachnoid haemorrhage","year":2020,"val":5.8,"lo":5.3,"hi":6.3},{"panel":13,"cause":"Subarachnoid haemorrhage","year":2025,"val":5.7,"lo":5.2,"hi":6.3},{"panel":13,"cause":"Subarachnoid haemorrhage","year":2030,"val":5.6,"lo":5.1,"hi":6.2},{"panel":13,"cause":"Subarachnoid haemorrhage","year":2035,"val":5.5,"lo":4.9,"hi":6.2},{"panel":13,"cause":"Subarachnoid haemorrhage","year":2040,"val":5.4,"lo":4.7,"hi":6.2},{"panel":13,"cause":"Subarachnoid haemorrhage","year":2045,"val":5.3,"lo":4.5,"hi":6.2},{"panel":13,"cause":"Subarachnoid haemorrhage","year":2050,"val":5.2,"lo":4.3,"hi":6.3},
{"panel":14,"cause":"Stroke","year":2020,"val":86.8,"lo":77.2,"hi":96.4},{"panel":14,"cause":"Stroke","year":2025,"val":81.9,"lo":72.5,"hi":91.7},{"panel":14,"cause":"Stroke","year":2030,"val":76.2,"lo":66.3,"hi":88.1},{"panel":14,"cause":"Stroke","year":2035,"val":69.4,"lo":59.1,"hi":82.4},{"panel":14,"cause":"Stroke","year":2040,"val":62.7,"lo":51.8,"hi":76.7},{"panel":14,"cause":"Stroke","year":2045,"val":56.0,"lo":45.1,"hi":70.5},{"panel":14,"cause":"Stroke","year":2050,"val":48.2,"lo":36.3,"hi":65.8},
{"panel":14,"cause":"Intracerebral haemorrhage","year":2020,"val":21.5,"lo":18.7,"hi":24.4},{"panel":14,"cause":"Intracerebral haemorrhage","year":2025,"val":20.5,"lo":17.6,"hi":23.6},{"panel":14,"cause":"Intracerebral haemorrhage","year":2030,"val":19.5,"lo":16.6,"hi":22.8},{"panel":14,"cause":"Intracerebral haemorrhage","year":2035,"val":18.5,"lo":15.8,"hi":22.0},{"panel":14,"cause":"Intracerebral haemorrhage","year":2040,"val":17.6,"lo":15.0,"hi":21.2},{"panel":14,"cause":"Intracerebral haemorrhage","year":2045,"val":17.0,"lo":14.2,"hi":20.7},{"panel":14,"cause":"Intracerebral haemorrhage","year":2050,"val":16.3,"lo":13.5,"hi":20.2},
{"panel":14,"cause":"Ischaemic stroke","year":2020,"val":62.2,"lo":55.4,"hi":68.9},{"panel":14,"cause":"Ischaemic stroke","year":2025,"val":58.5,"lo":51.8,"hi":63.7},{"panel":14,"cause":"Ischaemic stroke","year":2030,"val":53.9,"lo":46.6,"hi":60.1},{"panel":14,"cause":"Ischaemic stroke","year":2035,"val":47.7,"lo":40.4,"hi":54.4},{"panel":14,"cause":"Ischaemic stroke","year":2040,"val":41.5,"lo":33.7,"hi":48.2},{"panel":14,"cause":"Ischaemic stroke","year":2045,"val":35.2,"lo":28.0,"hi":43.5},{"panel":14,"cause":"Ischaemic stroke","year":2050,"val":29.2,"lo":22.3,"hi":39.9},
{"panel":14,"cause":"Subarachnoid haemorrhage","year":2020,"val":3.2,"lo":2.8,"hi":3.6},{"panel":14,"cause":"Subarachnoid haemorrhage","year":2025,"val":3.15,"lo":2.7,"hi":3.6},{"panel":14,"cause":"Subarachnoid haemorrhage","year":2030,"val":3.1,"lo":2.6,"hi":3.6},{"panel":14,"cause":"Subarachnoid haemorrhage","year":2035,"val":3.0,"lo":2.5,"hi":3.6},{"panel":14,"cause":"Subarachnoid haemorrhage","year":2040,"val":2.9,"lo":2.3,"hi":3.6},{"panel":14,"cause":"Subarachnoid haemorrhage","year":2045,"val":2.85,"lo":2.2,"hi":3.7},{"panel":14,"cause":"Subarachnoid haemorrhage","year":2050,"val":2.8,"lo":2.1,"hi":3.8},
{"panel":15,"cause":"Stroke","year":2020,"val":33.7,"lo":29.2,"hi":36.8},{"panel":15,"cause":"Stroke","year":2025,"val":30.4,"lo":26.5,"hi":34.0},{"panel":15,"cause":"Stroke","year":2030,"val":27.3,"lo":23.9,"hi":31.0},{"panel":15,"cause":"Stroke","year":2035,"val":24.7,"lo":21.7,"hi":28.5},{"panel":15,"cause":"Stroke","year":2040,"val":22.5,"lo":19.8,"hi":26.3},{"panel":15,"cause":"Stroke","year":2045,"val":20.6,"lo":17.8,"hi":24.3},{"panel":15,"cause":"Stroke","year":2050,"val":18.9,"lo":15.8,"hi":22.3},
{"panel":15,"cause":"Intracerebral haemorrhage","year":2020,"val":10.2,"lo":9.1,"hi":10.9},{"panel":15,"cause":"Intracerebral haemorrhage","year":2025,"val":9.7,"lo":8.7,"hi":10.5},{"panel":15,"cause":"Intracerebral haemorrhage","year":2030,"val":9.3,"lo":8.3,"hi":10.1},{"panel":15,"cause":"Intracerebral haemorrhage","year":2035,"val":8.9,"lo":7.9,"hi":9.7},{"panel":15,"cause":"Intracerebral haemorrhage","year":2040,"val":8.5,"lo":7.5,"hi":9.3},{"panel":15,"cause":"Intracerebral haemorrhage","year":2045,"val":8.1,"lo":7.1,"hi":9.0},{"panel":15,"cause":"Intracerebral haemorrhage","year":2050,"val":7.7,"lo":6.8,"hi":8.6},
{"panel":15,"cause":"Ischaemic stroke","year":2020,"val":20.2,"lo":18.4,"hi":22.1},{"panel":15,"cause":"Ischaemic stroke","year":2025,"val":17.2,"lo":15.6,"hi":19.2},{"panel":15,"cause":"Ischaemic stroke","year":2030,"val":14.6,"lo":13.2,"hi":16.6},{"panel":15,"cause":"Ischaemic stroke","year":2035,"val":12.6,"lo":11.1,"hi":14.4},{"panel":15,"cause":"Ischaemic stroke","year":2040,"val":10.9,"lo":9.3,"hi":12.6},{"panel":15,"cause":"Ischaemic stroke","year":2045,"val":9.3,"lo":7.7,"hi":10.9},{"panel":15,"cause":"Ischaemic stroke","year":2050,"val":8.0,"lo":6.5,"hi":9.3},
{"panel":15,"cause":"Subarachnoid haemorrhage","year":2020,"val":3.4,"lo":3.1,"hi":3.7},{"panel":15,"cause":"Subarachnoid haemorrhage","year":2025,"val":3.35,"lo":3.0,"hi":3.7},{"panel":15,"cause":"Subarachnoid haemorrhage","year":2030,"val":3.3,"lo":3.0,"hi":3.7},{"panel":15,"cause":"Subarachnoid haemorrhage","year":2035,"val":3.3,"lo":2.9,"hi":3.8},{"panel":15,"cause":"Subarachnoid haemorrhage","year":2040,"val":3.25,"lo":2.8,"hi":3.8},{"panel":15,"cause":"Subarachnoid haemorrhage","year":2045,"val":3.2,"lo":2.7,"hi":3.9},{"panel":15,"cause":"Subarachnoid haemorrhage","year":2050,"val":3.2,"lo":2.6,"hi":4.0},
{"panel":16,"cause":"Stroke","year":2020,"val":78.7,"lo":67.8,"hi":91.0},{"panel":16,"cause":"Stroke","year":2025,"val":71.7,"lo":61.4,"hi":85.4},{"panel":16,"cause":"Stroke","year":2030,"val":65.8,"lo":56.0,"hi":79.5},{"panel":16,"cause":"Stroke","year":2035,"val":60.7,"lo":51.1,"hi":73.6},{"panel":16,"cause":"Stroke","year":2040,"val":56.0,"lo":46.3,"hi":70.2},{"panel":16,"cause":"Stroke","year":2045,"val":51.6,"lo":41.4,"hi":66.3},{"panel":16,"cause":"Stroke","year":2050,"val":46.7,"lo":35.5,"hi":61.4},
{"panel":16,"cause":"Intracerebral haemorrhage","year":2020,"val":38.6,"lo":34.0,"hi":46.5},{"panel":16,"cause":"Intracerebral haemorrhage","year":2025,"val":35.0,"lo":30.1,"hi":42.8},{"panel":16,"cause":"Intracerebral haemorrhage","year":2030,"val":32.6,"lo":27.7,"hi":39.4},{"panel":16,"cause":"Intracerebral haemorrhage","year":2035,"val":30.6,"lo":25.7,"hi":37.9},{"panel":16,"cause":"Intracerebral haemorrhage","year":2040,"val":29.1,"lo":24.3,"hi":36.7},{"panel":16,"cause":"Intracerebral haemorrhage","year":2045,"val":27.7,"lo":22.8,"hi":35.0},{"panel":16,"cause":"Intracerebral haemorrhage","year":2050,"val":26.2,"lo":21.0,"hi":33.4},
{"panel":16,"cause":"Ischaemic stroke","year":2020,"val":34.5,"lo":29.1,"hi":41.4},{"panel":16,"cause":"Ischaemic stroke","year":2025,"val":31.1,"lo":25.7,"hi":36.6},{"panel":16,"cause":"Ischaemic stroke","year":2030,"val":27.7,"lo":23.3,"hi":33.1},{"panel":16,"cause":"Ischaemic stroke","year":2035,"val":24.3,"lo":20.8,"hi":29.6},{"panel":16,"cause":"Ischaemic stroke","year":2040,"val":21.3,"lo":17.9,"hi":27.7},{"panel":16,"cause":"Ischaemic stroke","year":2045,"val":18.9,"lo":15.5,"hi":24.8},{"panel":16,"cause":"Ischaemic stroke","year":2050,"val":16.2,"lo":13.0,"hi":21.0},
{"panel":16,"cause":"Subarachnoid haemorrhage","year":2020,"val":5.4,"lo":3.3,"hi":7.8},{"panel":16,"cause":"Subarachnoid haemorrhage","year":2025,"val":5.2,"lo":3.2,"hi":7.6},{"panel":16,"cause":"Subarachnoid haemorrhage","year":2030,"val":5.0,"lo":3.1,"hi":7.4},{"panel":16,"cause":"Subarachnoid haemorrhage","year":2035,"val":4.9,"lo":3.0,"hi":7.3},{"panel":16,"cause":"Subarachnoid haemorrhage","year":2040,"val":4.8,"lo":2.8,"hi":7.2},{"panel":16,"cause":"Subarachnoid haemorrhage","year":2045,"val":4.7,"lo":2.6,"hi":7.1},{"panel":16,"cause":"Subarachnoid haemorrhage","year":2050,"val":4.6,"lo":2.4,"hi":7.0},
{"panel":17,"cause":"Stroke","year":2020,"val":127.8,"lo":108.7,"hi":144.1},{"panel":17,"cause":"Stroke","year":2025,"val":123.4,"lo":104.8,"hi":135.9},{"panel":17,"cause":"Stroke","year":2030,"val":114.9,"lo":97.0,"hi":128.1},{"panel":17,"cause":"Stroke","year":2035,"val":107.1,"lo":88.5,"hi":120.3},{"panel":17,"cause":"Stroke","year":2040,"val":98.6,"lo":80.7,"hi":113.4},{"panel":17,"cause":"Stroke","year":2045,"val":90.8,"lo":74.5,"hi":105.6},{"panel":17,"cause":"Stroke","year":2050,"val":82.3,"lo":68.3,"hi":98.6},
{"panel":17,"cause":"Intracerebral haemorrhage","year":2020,"val":61.6,"lo":53.1,"hi":69.1},{"panel":17,"cause":"Intracerebral haemorrhage","year":2025,"val":58.2,"lo":49.7,"hi":65.7},{"panel":17,"cause":"Intracerebral haemorrhage","year":2030,"val":55.9,"lo":47.4,"hi":62.9},{"panel":17,"cause":"Intracerebral haemorrhage","year":2035,"val":54.0,"lo":45.8,"hi":61.3},{"panel":17,"cause":"Intracerebral haemorrhage","year":2040,"val":52.3,"lo":44.3,"hi":59.8},{"panel":17,"cause":"Intracerebral haemorrhage","year":2045,"val":50.8,"lo":42.7,"hi":58.2},{"panel":17,"cause":"Intracerebral haemorrhage","year":2050,"val":49.4,"lo":41.9,"hi":57.1},
{"panel":17,"cause":"Ischaemic stroke","year":2020,"val":60.6,"lo":51.6,"hi":68.6},{"panel":17,"cause":"Ischaemic stroke","year":2025,"val":55.1,"lo":47.8,"hi":61.3},{"panel":17,"cause":"Ischaemic stroke","year":2030,"val":48.1,"lo":41.6,"hi":55.1},{"panel":17,"cause":"Ischaemic stroke","year":2035,"val":41.9,"lo":35.7,"hi":48.9},{"panel":17,"cause":"Ischaemic stroke","year":2040,"val":36.5,"lo":31.1,"hi":42.7},{"panel":17,"cause":"Ischaemic stroke","year":2045,"val":31.8,"lo":26.4,"hi":38.0},{"panel":17,"cause":"Ischaemic stroke","year":2050,"val":27.6,"lo":22.5,"hi":34.2},
{"panel":17,"cause":"Subarachnoid haemorrhage","year":2020,"val":5.2,"lo":4.4,"hi":6.0},{"panel":17,"cause":"Subarachnoid haemorrhage","year":2025,"val":5.1,"lo":4.3,"hi":6.1},{"panel":17,"cause":"Subarachnoid haemorrhage","year":2030,"val":5.0,"lo":4.1,"hi":6.3},{"panel":17,"cause":"Subarachnoid haemorrhage","year":2035,"val":4.9,"lo":3.9,"hi":6.5},{"panel":17,"cause":"Subarachnoid haemorrhage","year":2040,"val":4.8,"lo":3.7,"hi":6.7},{"panel":17,"cause":"Subarachnoid haemorrhage","year":2045,"val":4.7,"lo":3.4,"hi":7.0},{"panel":17,"cause":"Subarachnoid haemorrhage","year":2050,"val":4.6,"lo":3.2,"hi":7.3},
{"panel":18,"cause":"Stroke","year":2020,"val":49.6,"lo":43.7,"hi":54.9},{"panel":18,"cause":"Stroke","year":2025,"val":47.5,"lo":41.3,"hi":54.4},{"panel":18,"cause":"Stroke","year":2030,"val":44.0,"lo":36.9,"hi":51.7},{"panel":18,"cause":"Stroke","year":2035,"val":40.1,"lo":32.5,"hi":49.3},{"panel":18,"cause":"Stroke","year":2040,"val":36.3,"lo":28.3,"hi":46.0},{"panel":18,"cause":"Stroke","year":2045,"val":32.8,"lo":24.8,"hi":43.1},{"panel":18,"cause":"Stroke","year":2050,"val":29.2,"lo":21.5,"hi":39.8},
{"panel":18,"cause":"Intracerebral haemorrhage","year":2020,"val":17.4,"lo":15.6,"hi":19.5},{"panel":18,"cause":"Intracerebral haemorrhage","year":2025,"val":16.5,"lo":14.5,"hi":18.6},{"panel":18,"cause":"Intracerebral haemorrhage","year":2030,"val":15.5,"lo":13.3,"hi":17.7},{"panel":18,"cause":"Intracerebral haemorrhage","year":2035,"val":14.5,"lo":12.1,"hi":16.6},{"panel":18,"cause":"Intracerebral haemorrhage","year":2040,"val":13.6,"lo":11.2,"hi":15.8},{"panel":18,"cause":"Intracerebral haemorrhage","year":2045,"val":12.7,"lo":10.3,"hi":15.1},{"panel":18,"cause":"Intracerebral haemorrhage","year":2050,"val":11.9,"lo":9.6,"hi":14.5},
{"panel":18,"cause":"Ischaemic stroke","year":2020,"val":26.9,"lo":24.2,"hi":30.0},{"panel":18,"cause":"Ischaemic stroke","year":2025,"val":25.4,"lo":22.7,"hi":28.0},{"panel":18,"cause":"Ischaemic stroke","year":2030,"val":23.0,"lo":20.1,"hi":26.0},{"panel":18,"cause":"Ischaemic stroke","year":2035,"val":20.1,"lo":17.1,"hi":23.3},{"panel":18,"cause":"Ischaemic stroke","year":2040,"val":17.1,"lo":14.2,"hi":20.7},{"panel":18,"cause":"Ischaemic stroke","year":2045,"val":14.8,"lo":11.8,"hi":18.6},{"panel":18,"cause":"Ischaemic stroke","year":2050,"val":12.7,"lo":9.7,"hi":16.8},
{"panel":18,"cause":"Subarachnoid haemorrhage","year":2020,"val":5.2,"lo":4.7,"hi":5.8},{"panel":18,"cause":"Subarachnoid haemorrhage","year":2025,"val":5.2,"lo":4.6,"hi":6.5},{"panel":18,"cause":"Subarachnoid haemorrhage","year":2030,"val":5.1,"lo":4.4,"hi":6.6},{"panel":18,"cause":"Subarachnoid haemorrhage","year":2035,"val":4.9,"lo":4.1,"hi":6.6},{"panel":18,"cause":"Subarachnoid haemorrhage","year":2040,"val":4.8,"lo":3.8,"hi":6.6},{"panel":18,"cause":"Subarachnoid haemorrhage","year":2045,"val":4.7,"lo":3.5,"hi":6.6},{"panel":18,"cause":"Subarachnoid haemorrhage","year":2050,"val":4.6,"lo":3.2,"hi":6.7},
{"panel":19,"cause":"Stroke","year":2020,"val":105.2,"lo":93,"hi":117.5},{"panel":19,"cause":"Stroke","year":2025,"val":98.5,"lo":86,"hi":111},{"panel":19,"cause":"Stroke","year":2030,"val":91.6,"lo":79.3,"hi":104.4},{"panel":19,"cause":"Stroke","year":2035,"val":84.2,"lo":72,"hi":97.7},{"panel":19,"cause":"Stroke","year":2040,"val":76.9,"lo":65.9,"hi":90.3},{"panel":19,"cause":"Stroke","year":2045,"val":69.5,"lo":59.1,"hi":82.4},{"panel":19,"cause":"Stroke","year":2050,"val":63.0,"lo":52.8,"hi":73.4},
{"panel":19,"cause":"Intracerebral haemorrhage","year":2020,"val":59.4,"lo":51.1,"hi":68.6},{"panel":19,"cause":"Intracerebral haemorrhage","year":2025,"val":55.4,"lo":48,"hi":63.4},{"panel":19,"cause":"Intracerebral haemorrhage","year":2030,"val":50.6,"lo":44.4,"hi":58.5},{"panel":19,"cause":"Intracerebral haemorrhage","year":2035,"val":47,"lo":41,"hi":54.2},{"panel":19,"cause":"Intracerebral haemorrhage","year":2040,"val":43.8,"lo":37.7,"hi":49.9},{"panel":19,"cause":"Intracerebral haemorrhage","year":2045,"val":40.6,"lo":34.5,"hi":46.5},{"panel":19,"cause":"Intracerebral haemorrhage","year":2050,"val":37.7,"lo":32.8,"hi":43.6},
{"panel":19,"cause":"Ischaemic stroke","year":2020,"val":42.8,"lo":37.9,"hi":47.8},{"panel":19,"cause":"Ischaemic stroke","year":2025,"val":40.6,"lo":36,"hi":45.5},{"panel":19,"cause":"Ischaemic stroke","year":2030,"val":37.7,"lo":32.8,"hi":42.6},{"panel":19,"cause":"Ischaemic stroke","year":2035,"val":34.5,"lo":30,"hi":39.5},{"panel":19,"cause":"Ischaemic stroke","year":2040,"val":31.0,"lo":26.1,"hi":35.9},{"panel":19,"cause":"Ischaemic stroke","year":2045,"val":27.3,"lo":22.5,"hi":32.5},{"panel":19,"cause":"Ischaemic stroke","year":2050,"val":23.6,"lo":18.7,"hi":28.5},
{"panel":19,"cause":"Subarachnoid haemorrhage","year":2020,"val":2.6,"lo":1.2,"hi":4.5},{"panel":19,"cause":"Subarachnoid haemorrhage","year":2025,"val":2.5,"lo":1.1,"hi":4.3},{"panel":19,"cause":"Subarachnoid haemorrhage","year":2030,"val":2.3,"lo":1.0,"hi":4.1},{"panel":19,"cause":"Subarachnoid haemorrhage","year":2035,"val":2.2,"lo":0.9,"hi":3.9},{"panel":19,"cause":"Subarachnoid haemorrhage","year":2040,"val":2.0,"lo":0.8,"hi":3.8},{"panel":19,"cause":"Subarachnoid haemorrhage","year":2045,"val":1.9,"lo":0.7,"hi":3.7},{"panel":19,"cause":"Subarachnoid haemorrhage","year":2050,"val":1.8,"lo":0.6,"hi":3.6},
{"panel":20,"cause":"Stroke","year":2020,"val":105.3,"lo":94.6,"hi":114.2},{"panel":20,"cause":"Stroke","year":2025,"val":98.3,"lo":87.3,"hi":106.9},{"panel":20,"cause":"Stroke","year":2030,"val":90.9,"lo":79.9,"hi":99.5},{"panel":20,"cause":"Stroke","year":2035,"val":84.2,"lo":73.8,"hi":94.0},{"panel":20,"cause":"Stroke","year":2040,"val":76.9,"lo":67.1,"hi":87.9},{"panel":20,"cause":"Stroke","year":2045,"val":70.1,"lo":60.3,"hi":82.4},{"panel":20,"cause":"Stroke","year":2050,"val":63.6,"lo":52.4,"hi":77.5},
{"panel":20,"cause":"Intracerebral haemorrhage","year":2020,"val":46.5,"lo":41.4,"hi":50.6},{"panel":20,"cause":"Intracerebral haemorrhage","year":2025,"val":44.4,"lo":40.1,"hi":48.4},{"panel":20,"cause":"Intracerebral haemorrhage","year":2030,"val":42.6,"lo":38.3,"hi":46.5},{"panel":20,"cause":"Intracerebral haemorrhage","year":2035,"val":40.8,"lo":35.9,"hi":45.0},{"panel":20,"cause":"Intracerebral haemorrhage","year":2040,"val":39.2,"lo":34.0,"hi":43.6},{"panel":20,"cause":"Intracerebral haemorrhage","year":2045,"val":37.1,"lo":32.2,"hi":42.0},{"panel":20,"cause":"Intracerebral haemorrhage","year":2050,"val":35.5,"lo":30.6,"hi":40.5},
{"panel":20,"cause":"Ischaemic stroke","year":2020,"val":53.9,"lo":48.1,"hi":58.5},{"panel":20,"cause":"Ischaemic stroke","year":2025,"val":48.7,"lo":43.8,"hi":53.0},{"panel":20,"cause":"Ischaemic stroke","year":2030,"val":43.2,"lo":37.7,"hi":47.5},{"panel":20,"cause":"Ischaemic stroke","year":2035,"val":37.7,"lo":32.8,"hi":42.6},{"panel":20,"cause":"Ischaemic stroke","year":2040,"val":32.8,"lo":27.9,"hi":37.7},{"panel":20,"cause":"Ischaemic stroke","year":2045,"val":28.3,"lo":23.9,"hi":33.4},{"panel":20,"cause":"Ischaemic stroke","year":2050,"val":24.2,"lo":20.0,"hi":29.5},
{"panel":20,"cause":"Subarachnoid haemorrhage","year":2020,"val":4.9,"lo":4.4,"hi":5.4},{"panel":20,"cause":"Subarachnoid haemorrhage","year":2025,"val":4.8,"lo":4.2,"hi":5.4},{"panel":20,"cause":"Subarachnoid haemorrhage","year":2030,"val":4.7,"lo":4.0,"hi":5.4},{"panel":20,"cause":"Subarachnoid haemorrhage","year":2035,"val":4.6,"lo":3.8,"hi":5.5},{"panel":20,"cause":"Subarachnoid haemorrhage","year":2040,"val":4.5,"lo":3.6,"hi":5.6},{"panel":20,"cause":"Subarachnoid haemorrhage","year":2045,"val":4.4,"lo":3.4,"hi":5.7},{"panel":20,"cause":"Subarachnoid haemorrhage","year":2050,"val":4.3,"lo":3.2,"hi":5.9}
]},
"vconcat":[
{"hconcat":[
{"width":255,"height":325,"title":{"text":["Global",""],"dy":4.5},"layer":[
{"data":{"values":[{"year":2019.5}]},"mark":{"type":"rule","strokeDash":[4,3],"color":"#4d6b7c","strokeWidth":1.5},"encoding":{"x":{"field":"year","type":"quantitative","scale":{"domain":[2018.5,2051.2],"nice":false,"zero":false}}}},
{"transform":[{"filter":"datum.panel == 1"}],"mark":{"type":"area","interpolate":"monotone","fillOpacity":0.4},"encoding":{"x":{"field":"year","type":"quantitative","scale":{"domain":[2018.5,2051.2],"nice":false,"zero":false},"axis":{"values":[2020,2030,2040,2050],"labels":false,"title":null}},"y":{"field":"lo","type":"quantitative","scale":{"domain":[0,12.15],"nice":false},"axis":{"values":[0,2,4,6,8,10,12],"title":"Millions of deaths","titleX":-106,"titleY":162.5,"titleBaseline":"middle","titleAlign":"center","titleAngle":-90,"titleFont":"DejaVu Sans","titleFontSize":17}},"y2":{"field":"hi"},"fill":{"field":"cause","type":"nominal","scale":{"domain":["Stroke","Intracerebral haemorrhage","Ischaemic stroke","Subarachnoid haemorrhage"],"range":["#6e7fc0","#d9756b","#accf8e","#69c0e1"]}}}},
{"transform":[{"filter":"datum.panel == 1"}],"mark":{"type":"line","interpolate":"monotone","strokeWidth":2},"encoding":{"x":{"field":"year","type":"quantitative","scale":{"domain":[2018.5,2051.2],"nice":false,"zero":false},"axis":{"values":[2020,2030,2040,2050],"labels":false,"title":null}},"y":{"field":"val","type":"quantitative","scale":{"domain":[0,12.15],"nice":false},"axis":{"values":[0,2,4,6,8,10,12],"title":"Millions of deaths","titleX":-106,"titleY":162.5,"titleBaseline":"middle","titleAlign":"center","titleAngle":-90,"titleFont":"DejaVu Sans","titleFontSize":17}},"stroke":{"field":"cause","type":"nominal","scale":{"domain":["Stroke","Intracerebral haemorrhage","Ischaemic stroke","Subarachnoid haemorrhage"],"range":["#1c4f9d","#c2163f","#58a93a","#139fd1"]},"legend":{"orient":"none","legendX":9,"legendY":-101,"direction":"horizontal","columns":4,"title":null,"symbolType":"stroke","symbolSize":1024,"symbolStrokeWidth":2,"symbolOpacity":1,"labelFontSize":19,"labelFont":"Roboto","labelColor":"#231f20","labelOffset":6,"labelLimit":500,"columnPadding":38}}}}
]},
{"width":255,"height":325,"title":{"text":["High-income regions (GBD)",""],"dy":5},"layer":[
{"data":{"values":[{"year":2019.5}]},"mark":{"type":"rule","strokeDash":[4,3],"color":"#4d6b7c","strokeWidth":1.5},"encoding":{"x":{"field":"year","type":"quantitative","scale":{"domain":[2018.5,2051.2],"nice":false,"zero":false}}}},
{"transform":[{"filter":"datum.panel == 2"}],"mark":{"type":"area","interpolate":"monotone","fillOpacity":0.4},"encoding":{"x":{"field":"year","type":"quantitative","scale":{"domain":[2018.5,2051.2],"nice":false,"zero":false},"axis":{"values":[2020,2030,2040,2050],"labels":false,"title":null}},"y":{"field":"lo","type":"quantitative","scale":{"domain":[0,1.01],"nice":false},"axis":{"values":[0,0.2,0.4,0.6,0.8,1.0],"title":null,"labelExpr":"datum.value == 0 ? '0' : replace(format(datum.value, '.1f'), '.', '·')"}},"y2":{"field":"hi"},"fill":{"field":"cause","type":"nominal","scale":{"domain":["Stroke","Intracerebral haemorrhage","Ischaemic stroke","Subarachnoid haemorrhage"],"range":["#6e7fc0","#d9756b","#accf8e","#69c0e1"]}}}},
{"transform":[{"filter":"datum.panel == 2"}],"mark":{"type":"line","interpolate":"monotone","strokeWidth":2},"encoding":{"x":{"field":"year","type":"quantitative","scale":{"domain":[2018.5,2051.2],"nice":false,"zero":false},"axis":{"values":[2020,2030,2040,2050],"labels":false,"title":null}},"y":{"field":"val","type":"quantitative","scale":{"domain":[0,1.01],"nice":false},"axis":{"values":[0,0.2,0.4,0.6,0.8,1.0],"title":null,"labelExpr":"datum.value == 0 ? '0' : replace(format(datum.value, '.1f'), '.', '·')"}},"stroke":{"field":"cause","type":"nominal","scale":{"domain":["Stroke","Intracerebral haemorrhage","Ischaemic stroke","Subarachnoid haemorrhage"],"range":["#1c4f9d","#c2163f","#58a93a","#139fd1"]}}}}
]},
{"width":255,"height":325,"title":{"text":["Central Europe, eastern Europe,","and central Asia"]},"layer":[
{"data":{"values":[{"year":2019.5}]},"mark":{"type":"rule","strokeDash":[4,3],"color":"#4d6b7c","strokeWidth":1.5},"encoding":{"x":{"field":"year","type":"quantitative","scale":{"domain":[2018.5,2051.2],"nice":false,"zero":false}}}},
{"transform":[{"filter":"datum.panel == 3"}],"mark":{"type":"area","interpolate":"monotone","fillOpacity":0.4},"encoding":{"x":{"field":"year","type":"quantitative","scale":{"domain":[2018.5,2051.2],"nice":false,"zero":false},"axis":{"values":[2020,2030,2040,2050],"labels":false,"title":null}},"y":{"field":"lo","type":"quantitative","scale":{"domain":[0,0.87],"nice":false},"axis":{"values":[0,0.1,0.2,0.3,0.4,0.5,0.6,0.7,0.8],"title":null,"labelExpr":"datum.value == 0 ? '0' : replace(format(datum.value, '.1f'), '.', '·')"}},"y2":{"field":"hi"},"fill":{"field":"cause","type":"nominal","scale":{"domain":["Stroke","Intracerebral haemorrhage","Ischaemic stroke","Subarachnoid haemorrhage"],"range":["#6e7fc0","#d9756b","#accf8e","#69c0e1"]}}}},
{"transform":[{"filter":"datum.panel == 3"}],"mark":{"type":"line","interpolate":"monotone","strokeWidth":2},"encoding":{"x":{"field":"year","type":"quantitative","scale":{"domain":[2018.5,2051.2],"nice":false,"zero":false},"axis":{"values":[2020,2030,2040,2050],"labels":false,"title":null}},"y":{"field":"val","type":"quantitative","scale":{"domain":[0,0.87],"nice":false},"axis":{"values":[0,0.1,0.2,0.3,0.4,0.5,0.6,0.7,0.8],"title":null,"labelExpr":"datum.value == 0 ? '0' : replace(format(datum.value, '.1f'), '.', '·')"}},"stroke":{"field":"cause","type":"nominal","scale":{"domain":["Stroke","Intracerebral haemorrhage","Ischaemic stroke","Subarachnoid haemorrhage"],"range":["#1c4f9d","#c2163f","#58a93a","#139fd1"]}}}}
]},
{"width":255,"height":325,"title":{"text":["North Africa and Middle East",""]},"layer":[
{"data":{"values":[{"year":2019.5}]},"mark":{"type":"rule","strokeDash":[4,3],"color":"#4d6b7c","strokeWidth":1.5},"encoding":{"x":{"field":"year","type":"quantitative","scale":{"domain":[2018.5,2051.2],"nice":false,"zero":false}}}},
{"transform":[{"filter":"datum.panel == 4"}],"mark":{"type":"area","interpolate":"monotone","fillOpacity":0.4},"encoding":{"x":{"field":"year","type":"quantitative","scale":{"domain":[2018.5,2051.2],"nice":false,"zero":false},"axis":{"values":[2020,2030,2040,2050],"labels":false,"title":null}},"y":{"field":"lo","type":"quantitative","scale":{"domain":[0,0.836],"nice":false},"axis":{"values":[0,0.1,0.2,0.3,0.4,0.5,0.6,0.7,0.8],"title":null,"labelExpr":"datum.value == 0 ? '0' : replace(format(datum.value, '.1f'), '.', '·')"}},"y2":{"field":"hi"},"fill":{"field":"cause","type":"nominal","scale":{"domain":["Stroke","Intracerebral haemorrhage","Ischaemic stroke","Subarachnoid haemorrhage"],"range":["#6e7fc0","#d9756b","#accf8e","#69c0e1"]}}}},
{"transform":[{"filter":"datum.panel == 4"}],"mark":{"type":"line","interpolate":"monotone","strokeWidth":2},"encoding":{"x":{"field":"year","type":"quantitative","scale":{"domain":[2018.5,2051.2],"nice":false,"zero":false},"axis":{"values":[2020,2030,2040,2050],"labels":false,"title":null}},"y":{"field":"val","type":"quantitative","scale":{"domain":[0,0.836],"nice":false},"axis":{"values":[0,0.1,0.2,0.3,0.4,0.5,0.6,0.7,0.8],"title":null,"labelExpr":"datum.value == 0 ? '0' : replace(format(datum.value, '.1f'), '.', '·')"}},"stroke":{"field":"cause","type":"nominal","scale":{"domain":["Stroke","Intracerebral haemorrhage","Ischaemic stroke","Subarachnoid haemorrhage"],"range":["#1c4f9d","#c2163f","#58a93a","#139fd1"]}}}}
]},
{"width":255,"height":325,"title":{"text":["High-income countries","(World Bank)"]},"layer":[
{"data":{"values":[{"year":2019.5}]},"mark":{"type":"rule","strokeDash":[4,3],"color":"#4d6b7c","strokeWidth":1.5},"encoding":{"x":{"field":"year","type":"quantitative","scale":{"domain":[2018.5,2051.2],"nice":false,"zero":false}}}},
{"transform":[{"filter":"datum.panel == 5"}],"mark":{"type":"area","interpolate":"monotone","fillOpacity":0.4},"encoding":{"x":{"field":"year","type":"quantitative","scale":{"domain":[2018.5,2051.2],"nice":false,"zero":false},"axis":{"values":[2020,2030,2040,2050],"labels":false,"title":null}},"y":{"field":"lo","type":"quantitative","scale":{"domain":[0,1.158],"nice":false},"axis":{"values":[0,0.2,0.4,0.6,0.8,1.0],"title":null,"labelExpr":"datum.value == 0 ? '0' : replace(format(datum.value, '.1f'), '.', '·')"}},"y2":{"field":"hi"},"fill":{"field":"cause","type":"nominal","scale":{"domain":["Stroke","Intracerebral haemorrhage","Ischaemic stroke","Subarachnoid haemorrhage"],"range":["#6e7fc0","#d9756b","#accf8e","#69c0e1"]}}}},
{"transform":[{"filter":"datum.panel == 5"}],"mark":{"type":"line","interpolate":"monotone","strokeWidth":2},"encoding":{"x":{"field":"year","type":"quantitative","scale":{"domain":[2018.5,2051.2],"nice":false,"zero":false},"axis":{"values":[2020,2030,2040,2050],"labels":false,"title":null}},"y":{"field":"val","type":"quantitative","scale":{"domain":[0,1.158],"nice":false},"axis":{"values":[0,0.2,0.4,0.6,0.8,1.0],"title":null,"labelExpr":"datum.value == 0 ? '0' : replace(format(datum.value, '.1f'), '.', '·')"}},"stroke":{"field":"cause","type":"nominal","scale":{"domain":["Stroke","Intracerebral haemorrhage","Ischaemic stroke","Subarachnoid haemorrhage"],"range":["#1c4f9d","#c2163f","#58a93a","#139fd1"]}}}}
]}
],"spacing":97,"bounds":"flush"},
{"hconcat":[
{"width":255,"height":325,"title":{"text":["South Asia","",""]},"layer":[
{"data":{"values":[{"year":2019.5}]},"mark":{"type":"rule","strokeDash":[4,3],"color":"#4d6b7c","strokeWidth":1.5},"encoding":{"x":{"field":"year","type":"quantitative","scale":{"domain":[2018.5,2051.2],"nice":false,"zero":false}}}},
{"transform":[{"filter":"datum.panel == 6"}],"mark":{"type":"area","interpolate":"monotone","fillOpacity":0.4},"encoding":{"x":{"field":"year","type":"quantitative","scale":{"domain":[2018.5,2051.2],"nice":false,"zero":false},"axis":{"values":[2020,2030,2040,2050],"labels":false,"title":null}},"y":{"field":"lo","type":"quantitative","scale":{"domain":[0,2.135],"nice":false},"axis":{"values":[0,0.25,0.5,0.75,1,1.25,1.5,1.75,2],"title":"Millions of deaths","titleX":-106,"titleY":162.5,"titleBaseline":"middle","titleAlign":"center","titleAngle":-90,"titleFont":"DejaVu Sans","titleFontSize":17,"labelExpr":"datum.value == 0 ? '0' : replace(format(datum.value, '.2f'), '.', '·')"}},"y2":{"field":"hi"},"fill":{"field":"cause","type":"nominal","scale":{"domain":["Stroke","Intracerebral haemorrhage","Ischaemic stroke","Subarachnoid haemorrhage"],"range":["#6e7fc0","#d9756b","#accf8e","#69c0e1"]}}}},
{"transform":[{"filter":"datum.panel == 6"}],"mark":{"type":"line","interpolate":"monotone","strokeWidth":2},"encoding":{"x":{"field":"year","type":"quantitative","scale":{"domain":[2018.5,2051.2],"nice":false,"zero":false},"axis":{"values":[2020,2030,2040,2050],"labels":false,"title":null}},"y":{"field":"val","type":"quantitative","scale":{"domain":[0,2.135],"nice":false},"axis":{"values":[0,0.25,0.5,0.75,1,1.25,1.5,1.75,2],"title":"Millions of deaths","titleX":-106,"titleY":162.5,"titleBaseline":"middle","titleAlign":"center","titleAngle":-90,"titleFont":"DejaVu Sans","titleFontSize":17,"labelExpr":"datum.value == 0 ? '0' : replace(format(datum.value, '.2f'), '.', '·')"}},"stroke":{"field":"cause","type":"nominal","scale":{"domain":["Stroke","Intracerebral haemorrhage","Ischaemic stroke","Subarachnoid haemorrhage"],"range":["#1c4f9d","#c2163f","#58a93a","#139fd1"]}}}}
]},
{"width":255,"height":325,"title":{"text":["Southeast Asia, east Asia,","and Oceania",""],"dy":0.5},"layer":[
{"data":{"values":[{"year":2019.5}]},"mark":{"type":"rule","strokeDash":[4,3],"color":"#4d6b7c","strokeWidth":1.5},"encoding":{"x":{"field":"year","type":"quantitative","scale":{"domain":[2018.5,2051.2],"nice":false,"zero":false}}}},
{"transform":[{"filter":"datum.panel == 7"}],"mark":{"type":"area","interpolate":"monotone","fillOpacity":0.4},"encoding":{"x":{"field":"year","type":"quantitative","scale":{"domain":[2018.5,2051.2],"nice":false,"zero":false},"axis":{"values":[2020,2030,2040,2050],"labels":false,"title":null}},"y":{"field":"lo","type":"quantitative","scale":{"domain":[0,6.17],"nice":false},"axis":{"values":[0,1,2,3,4,5,6],"title":null}},"y2":{"field":"hi"},"fill":{"field":"cause","type":"nominal","scale":{"domain":["Stroke","Intracerebral haemorrhage","Ischaemic stroke","Subarachnoid haemorrhage"],"range":["#6e7fc0","#d9756b","#accf8e","#69c0e1"]}}}},
{"transform":[{"filter":"datum.panel == 7"}],"mark":{"type":"line","interpolate":"monotone","strokeWidth":2},"encoding":{"x":{"field":"year","type":"quantitative","scale":{"domain":[2018.5,2051.2],"nice":false,"zero":false},"axis":{"values":[2020,2030,2040,2050],"labels":false,"title":null}},"y":{"field":"val","type":"quantitative","scale":{"domain":[0,6.17],"nice":false},"axis":{"values":[0,1,2,3,4,5,6],"title":null}},"stroke":{"field":"cause","type":"nominal","scale":{"domain":["Stroke","Intracerebral haemorrhage","Ischaemic stroke","Subarachnoid haemorrhage"],"range":["#1c4f9d","#c2163f","#58a93a","#139fd1"]}}}}
]},
{"width":255,"height":325,"title":{"text":["Latin America and Caribbean","",""]},"layer":[
{"data":{"values":[{"year":2019.5}]},"mark":{"type":"rule","strokeDash":[4,3],"color":"#4d6b7c","strokeWidth":1.5},"encoding":{"x":{"field":"year","type":"quantitative","scale":{"domain":[2018.5,2051.2],"nice":false,"zero":false}}}},
{"transform":[{"filter":"datum.panel == 8"}],"mark":{"type":"area","interpolate":"monotone","fillOpacity":0.4},"encoding":{"x":{"field":"year","type":"quantitative","scale":{"domain":[2018.5,2051.2],"nice":false,"zero":false},"axis":{"values":[2020,2030,2040,2050],"labels":false,"title":null}},"y":{"field":"lo","type":"quantitative","scale":{"domain":[0,0.57],"nice":false},"axis":{"values":[0,0.1,0.2,0.3,0.4,0.5],"title":null,"labelExpr":"datum.value == 0 ? '0' : replace(format(datum.value, '.1f'), '.', '·')"}},"y2":{"field":"hi"},"fill":{"field":"cause","type":"nominal","scale":{"domain":["Stroke","Intracerebral haemorrhage","Ischaemic stroke","Subarachnoid haemorrhage"],"range":["#6e7fc0","#d9756b","#accf8e","#69c0e1"]}}}},
{"transform":[{"filter":"datum.panel == 8"}],"mark":{"type":"line","interpolate":"monotone","strokeWidth":2},"encoding":{"x":{"field":"year","type":"quantitative","scale":{"domain":[2018.5,2051.2],"nice":false,"zero":false},"axis":{"values":[2020,2030,2040,2050],"labels":false,"title":null}},"y":{"field":"val","type":"quantitative","scale":{"domain":[0,0.57],"nice":false},"axis":{"values":[0,0.1,0.2,0.3,0.4,0.5],"title":null,"labelExpr":"datum.value == 0 ? '0' : replace(format(datum.value, '.1f'), '.', '·')"}},"stroke":{"field":"cause","type":"nominal","scale":{"domain":["Stroke","Intracerebral haemorrhage","Ischaemic stroke","Subarachnoid haemorrhage"],"range":["#1c4f9d","#c2163f","#58a93a","#139fd1"]}}}}
]},
{"width":255,"height":325,"title":{"text":["Sub-Saharan Africa","",""]},"layer":[
{"data":{"values":[{"year":2019.5}]},"mark":{"type":"rule","strokeDash":[4,3],"color":"#4d6b7c","strokeWidth":1.5},"encoding":{"x":{"field":"year","type":"quantitative","scale":{"domain":[2018.5,2051.2],"nice":false,"zero":false}}}},
{"transform":[{"filter":"datum.panel == 9"}],"mark":{"type":"area","interpolate":"monotone","fillOpacity":0.4},"encoding":{"x":{"field":"year","type":"quantitative","scale":{"domain":[2018.5,2051.2],"nice":false,"zero":false},"axis":{"values":[2020,2030,2040,2050],"labels":false,"title":null}},"y":{"field":"lo","type":"quantitative","scale":{"domain":[0,0.985],"nice":false},"axis":{"values":[0,0.2,0.4,0.6,0.8],"title":null,"labelExpr":"datum.value == 0 ? '0' : replace(format(datum.value, '.1f'), '.', '·')"}},"y2":{"field":"hi"},"fill":{"field":"cause","type":"nominal","scale":{"domain":["Stroke","Intracerebral haemorrhage","Ischaemic stroke","Subarachnoid haemorrhage"],"range":["#6e7fc0","#d9756b","#accf8e","#69c0e1"]}}}},
{"transform":[{"filter":"datum.panel == 9"}],"mark":{"type":"line","interpolate":"monotone","strokeWidth":2},"encoding":{"x":{"field":"year","type":"quantitative","scale":{"domain":[2018.5,2051.2],"nice":false,"zero":false},"axis":{"values":[2020,2030,2040,2050],"labels":false,"title":null}},"y":{"field":"val","type":"quantitative","scale":{"domain":[0,0.985],"nice":false},"axis":{"values":[0,0.2,0.4,0.6,0.8],"title":null,"labelExpr":"datum.value == 0 ? '0' : replace(format(datum.value, '.1f'), '.', '·')"}},"stroke":{"field":"cause","type":"nominal","scale":{"domain":["Stroke","Intracerebral haemorrhage","Ischaemic stroke","Subarachnoid haemorrhage"],"range":["#1c4f9d","#c2163f","#58a93a","#139fd1"]}}}}
]},
{"width":255,"height":325,"title":{"text":["Low-income and middle-","income countries (World","Bank)"]},"layer":[
{"data":{"values":[{"year":2019.5}]},"mark":{"type":"rule","strokeDash":[4,3],"color":"#4d6b7c","strokeWidth":1.5},"encoding":{"x":{"field":"year","type":"quantitative","scale":{"domain":[2018.5,2051.2],"nice":false,"zero":false}}}},
{"transform":[{"filter":"datum.panel == 10"}],"mark":{"type":"area","interpolate":"monotone","fillOpacity":0.4},"encoding":{"x":{"field":"year","type":"quantitative","scale":{"domain":[2018.5,2051.2],"nice":false,"zero":false},"axis":{"values":[2020,2030,2040,2050],"labels":false,"title":null}},"y":{"field":"lo","type":"quantitative","scale":{"domain":[0,11.12],"nice":false},"axis":{"values":[0,2,4,6,8,10],"title":null}},"y2":{"field":"hi"},"fill":{"field":"cause","type":"nominal","scale":{"domain":["Stroke","Intracerebral haemorrhage","Ischaemic stroke","Subarachnoid haemorrhage"],"range":["#6e7fc0","#d9756b","#accf8e","#69c0e1"]}}}},
{"transform":[{"filter":"datum.panel == 10"}],"mark":{"type":"line","interpolate":"monotone","strokeWidth":2},"encoding":{"x":{"field":"year","type":"quantitative","scale":{"domain":[2018.5,2051.2],"nice":false,"zero":false},"axis":{"values":[2020,2030,2040,2050],"labels":false,"title":null}},"y":{"field":"val","type":"quantitative","scale":{"domain":[0,11.12],"nice":false},"axis":{"values":[0,2,4,6,8,10],"title":null}},"stroke":{"field":"cause","type":"nominal","scale":{"domain":["Stroke","Intracerebral haemorrhage","Ischaemic stroke","Subarachnoid haemorrhage"],"range":["#1c4f9d","#c2163f","#58a93a","#139fd1"]}}}}
]}
],"spacing":97,"bounds":"flush"},
{"hconcat":[
{"width":255,"height":325,"title":{"text":["Global",""]},"layer":[
{"data":{"values":[{"year":2019.5}]},"mark":{"type":"rule","strokeDash":[4,3],"color":"#4d6b7c","strokeWidth":1.5},"encoding":{"x":{"field":"year","type":"quantitative","scale":{"domain":[2018.5,2051.2],"nice":false,"zero":false}}}},
{"transform":[{"filter":"datum.panel == 11"}],"mark":{"type":"area","interpolate":"monotone","fillOpacity":0.4},"encoding":{"x":{"field":"year","type":"quantitative","scale":{"domain":[2018.5,2051.2],"nice":false,"zero":false},"axis":{"values":[2020,2030,2040,2050],"labels":false,"title":null}},"y":{"field":"lo","type":"quantitative","scale":{"domain":[0,93.75],"nice":false},"axis":{"values":[0,20,40,60,80],"title":["Age-standardised deaths per","100\u2009000 person-years"],"titleX":-104,"titleY":162.5,"titleBaseline":"middle","titleAlign":"center","titleAngle":-90,"titleFont":"DejaVu Sans","titleFontSize":17,"titleLineHeight":19}},"y2":{"field":"hi"},"fill":{"field":"cause","type":"nominal","scale":{"domain":["Stroke","Intracerebral haemorrhage","Ischaemic stroke","Subarachnoid haemorrhage"],"range":["#6e7fc0","#d9756b","#accf8e","#69c0e1"]}}}},
{"transform":[{"filter":"datum.panel == 11"}],"mark":{"type":"line","interpolate":"monotone","strokeWidth":2},"encoding":{"x":{"field":"year","type":"quantitative","scale":{"domain":[2018.5,2051.2],"nice":false,"zero":false},"axis":{"values":[2020,2030,2040,2050],"labels":false,"title":null}},"y":{"field":"val","type":"quantitative","scale":{"domain":[0,93.75],"nice":false},"axis":{"values":[0,20,40,60,80],"title":["Age-standardised deaths per","100\u2009000 person-years"],"titleX":-104,"titleY":162.5,"titleBaseline":"middle","titleAlign":"center","titleAngle":-90,"titleFont":"DejaVu Sans","titleFontSize":17,"titleLineHeight":19}},"stroke":{"field":"cause","type":"nominal","scale":{"domain":["Stroke","Intracerebral haemorrhage","Ischaemic stroke","Subarachnoid haemorrhage"],"range":["#1c4f9d","#c2163f","#58a93a","#139fd1"]}}}}
]},
{"width":255,"height":325,"title":{"text":["High-income regions (GBD)",""]},"layer":[
{"data":{"values":[{"year":2019.5}]},"mark":{"type":"rule","strokeDash":[4,3],"color":"#4d6b7c","strokeWidth":1.5},"encoding":{"x":{"field":"year","type":"quantitative","scale":{"domain":[2018.5,2051.2],"nice":false,"zero":false}}}},
{"transform":[{"filter":"datum.panel == 12"}],"mark":{"type":"area","interpolate":"monotone","fillOpacity":0.4},"encoding":{"x":{"field":"year","type":"quantitative","scale":{"domain":[2018.5,2051.2],"nice":false,"zero":false},"axis":{"values":[2020,2030,2040,2050],"labels":false,"title":null}},"y":{"field":"lo","type":"quantitative","scale":{"domain":[0,36.4],"nice":false},"axis":{"values":[0,5,10,15,20,25,30,35],"title":null}},"y2":{"field":"hi"},"fill":{"field":"cause","type":"nominal","scale":{"domain":["Stroke","Intracerebral haemorrhage","Ischaemic stroke","Subarachnoid haemorrhage"],"range":["#6e7fc0","#d9756b","#accf8e","#69c0e1"]}}}},
{"transform":[{"filter":"datum.panel == 12"}],"mark":{"type":"line","interpolate":"monotone","strokeWidth":2},"encoding":{"x":{"field":"year","type":"quantitative","scale":{"domain":[2018.5,2051.2],"nice":false,"zero":false},"axis":{"values":[2020,2030,2040,2050],"labels":false,"title":null}},"y":{"field":"val","type":"quantitative","scale":{"domain":[0,36.4],"nice":false},"axis":{"values":[0,5,10,15,20,25,30,35],"title":null}},"stroke":{"field":"cause","type":"nominal","scale":{"domain":["Stroke","Intracerebral haemorrhage","Ischaemic stroke","Subarachnoid haemorrhage"],"range":["#1c4f9d","#c2163f","#58a93a","#139fd1"]}}}}
]},
{"width":255,"height":325,"title":{"text":["Central Europe, eastern Europe,","and central Asia"]},"layer":[
{"data":{"values":[{"year":2019.5}]},"mark":{"type":"rule","strokeDash":[4,3],"color":"#4d6b7c","strokeWidth":1.5},"encoding":{"x":{"field":"year","type":"quantitative","scale":{"domain":[2018.5,2051.2],"nice":false,"zero":false}}}},
{"transform":[{"filter":"datum.panel == 13"}],"mark":{"type":"area","interpolate":"monotone","fillOpacity":0.4},"encoding":{"x":{"field":"year","type":"quantitative","scale":{"domain":[2018.5,2051.2],"nice":false,"zero":false},"axis":{"values":[2020,2030,2040,2050],"labels":false,"title":null}},"y":{"field":"lo","type":"quantitative","scale":{"domain":[0,137.5],"nice":false},"axis":{"values":[0,20,40,60,80,100,120],"title":null}},"y2":{"field":"hi"},"fill":{"field":"cause","type":"nominal","scale":{"domain":["Stroke","Intracerebral haemorrhage","Ischaemic stroke","Subarachnoid haemorrhage"],"range":["#6e7fc0","#d9756b","#accf8e","#69c0e1"]}}}},
{"transform":[{"filter":"datum.panel == 13"}],"mark":{"type":"line","interpolate":"monotone","strokeWidth":2},"encoding":{"x":{"field":"year","type":"quantitative","scale":{"domain":[2018.5,2051.2],"nice":false,"zero":false},"axis":{"values":[2020,2030,2040,2050],"labels":false,"title":null}},"y":{"field":"val","type":"quantitative","scale":{"domain":[0,137.5],"nice":false},"axis":{"values":[0,20,40,60,80,100,120],"title":null}},"stroke":{"field":"cause","type":"nominal","scale":{"domain":["Stroke","Intracerebral haemorrhage","Ischaemic stroke","Subarachnoid haemorrhage"],"range":["#1c4f9d","#c2163f","#58a93a","#139fd1"]}}}}
]},
{"width":255,"height":325,"title":{"text":["North Africa and Middle East",""],"dy":4},"layer":[
{"data":{"values":[{"year":2019.5}]},"mark":{"type":"rule","strokeDash":[4,3],"color":"#4d6b7c","strokeWidth":1.5},"encoding":{"x":{"field":"year","type":"quantitative","scale":{"domain":[2018.5,2051.2],"nice":false,"zero":false}}}},
{"transform":[{"filter":"datum.panel == 14"}],"mark":{"type":"area","interpolate":"monotone","fillOpacity":0.4},"encoding":{"x":{"field":"year","type":"quantitative","scale":{"domain":[2018.5,2051.2],"nice":false,"zero":false},"axis":{"values":[2020,2030,2040,2050],"labels":false,"title":null}},"y":{"field":"lo","type":"quantitative","scale":{"domain":[0,101],"nice":false},"axis":{"values":[0,20,40,60,80,100],"title":null}},"y2":{"field":"hi"},"fill":{"field":"cause","type":"nominal","scale":{"domain":["Stroke","Intracerebral haemorrhage","Ischaemic stroke","Subarachnoid haemorrhage"],"range":["#6e7fc0","#d9756b","#accf8e","#69c0e1"]}}}},
{"transform":[{"filter":"datum.panel == 14"}],"mark":{"type":"line","interpolate":"monotone","strokeWidth":2},"encoding":{"x":{"field":"year","type":"quantitative","scale":{"domain":[2018.5,2051.2],"nice":false,"zero":false},"axis":{"values":[2020,2030,2040,2050],"labels":false,"title":null}},"y":{"field":"val","type":"quantitative","scale":{"domain":[0,101],"nice":false},"axis":{"values":[0,20,40,60,80,100],"title":null}},"stroke":{"field":"cause","type":"nominal","scale":{"domain":["Stroke","Intracerebral haemorrhage","Ischaemic stroke","Subarachnoid haemorrhage"],"range":["#1c4f9d","#c2163f","#58a93a","#139fd1"]}}}}
]},
{"width":255,"height":325,"title":{"text":["High-income countries","(World Bank)"]},"layer":[
{"data":{"values":[{"year":2019.5}]},"mark":{"type":"rule","strokeDash":[4,3],"color":"#4d6b7c","strokeWidth":1.5},"encoding":{"x":{"field":"year","type":"quantitative","scale":{"domain":[2018.5,2051.2],"nice":false,"zero":false}}}},
{"transform":[{"filter":"datum.panel == 15"}],"mark":{"type":"area","interpolate":"monotone","fillOpacity":0.4},"encoding":{"x":{"field":"year","type":"quantitative","scale":{"domain":[2018.5,2051.2],"nice":false,"zero":false},"axis":{"values":[2020,2030,2040,2050],"labels":false,"title":null}},"y":{"field":"lo","type":"quantitative","scale":{"domain":[0,38.5],"nice":false},"axis":{"values":[0,5,10,15,20,25,30,35],"title":null}},"y2":{"field":"hi"},"fill":{"field":"cause","type":"nominal","scale":{"domain":["Stroke","Intracerebral haemorrhage","Ischaemic stroke","Subarachnoid haemorrhage"],"range":["#6e7fc0","#d9756b","#accf8e","#69c0e1"]}}}},
{"transform":[{"filter":"datum.panel == 15"}],"mark":{"type":"line","interpolate":"monotone","strokeWidth":2},"encoding":{"x":{"field":"year","type":"quantitative","scale":{"domain":[2018.5,2051.2],"nice":false,"zero":false},"axis":{"values":[2020,2030,2040,2050],"labels":false,"title":null}},"y":{"field":"val","type":"quantitative","scale":{"domain":[0,38.5],"nice":false},"axis":{"values":[0,5,10,15,20,25,30,35],"title":null}},"stroke":{"field":"cause","type":"nominal","scale":{"domain":["Stroke","Intracerebral haemorrhage","Ischaemic stroke","Subarachnoid haemorrhage"],"range":["#1c4f9d","#c2163f","#58a93a","#139fd1"]}}}}
]}
],"spacing":97,"bounds":"flush"},
{"hconcat":[
{"width":255,"height":325,"title":{"text":["South Asia","",""]},"layer":[
{"data":{"values":[{"year":2019.5}]},"mark":{"type":"rule","strokeDash":[4,3],"color":"#4d6b7c","strokeWidth":1.5},"encoding":{"x":{"field":"year","type":"quantitative","scale":{"domain":[2018.5,2051.2],"nice":false,"zero":false}}}},
{"transform":[{"filter":"datum.panel == 16"}],"mark":{"type":"area","interpolate":"monotone","fillOpacity":0.4},"encoding":{"x":{"field":"year","type":"quantitative","scale":{"domain":[2018.5,2051.2],"nice":false,"zero":false},"axis":{"values":[2020,2030,2040,2050],"format":"d","title":"Year","labelPadding":4,"titlePadding":15}},"y":{"field":"lo","type":"quantitative","scale":{"domain":[0,95.5],"nice":false},"axis":{"values":[0,20,40,60,80],"title":["Age-standardised deaths per","100\u2009000 person-years"],"titleX":-104,"titleY":162.5,"titleBaseline":"middle","titleAlign":"center","titleAngle":-90,"titleFont":"DejaVu Sans","titleFontSize":17,"titleLineHeight":19}},"y2":{"field":"hi"},"fill":{"field":"cause","type":"nominal","scale":{"domain":["Stroke","Intracerebral haemorrhage","Ischaemic stroke","Subarachnoid haemorrhage"],"range":["#6e7fc0","#d9756b","#accf8e","#69c0e1"]}}}},
{"transform":[{"filter":"datum.panel == 16"}],"mark":{"type":"line","interpolate":"monotone","strokeWidth":2},"encoding":{"x":{"field":"year","type":"quantitative","scale":{"domain":[2018.5,2051.2],"nice":false,"zero":false},"axis":{"values":[2020,2030,2040,2050],"format":"d","title":"Year","labelPadding":4,"titlePadding":15}},"y":{"field":"val","type":"quantitative","scale":{"domain":[0,95.5],"nice":false},"axis":{"values":[0,20,40,60,80],"title":["Age-standardised deaths per","100\u2009000 person-years"],"titleX":-104,"titleY":162.5,"titleBaseline":"middle","titleAlign":"center","titleAngle":-90,"titleFont":"DejaVu Sans","titleFontSize":17,"titleLineHeight":19}},"stroke":{"field":"cause","type":"nominal","scale":{"domain":["Stroke","Intracerebral haemorrhage","Ischaemic stroke","Subarachnoid haemorrhage"],"range":["#1c4f9d","#c2163f","#58a93a","#139fd1"]}}}}
]},
{"width":255,"height":325,"title":{"text":["Southeast Asia, east Asia,","and Oceania",""]},"layer":[
{"data":{"values":[{"year":2019.5}]},"mark":{"type":"rule","strokeDash":[4,3],"color":"#4d6b7c","strokeWidth":1.5},"encoding":{"x":{"field":"year","type":"quantitative","scale":{"domain":[2018.5,2051.2],"nice":false,"zero":false}}}},
{"transform":[{"filter":"datum.panel == 17"}],"mark":{"type":"area","interpolate":"monotone","fillOpacity":0.4},"encoding":{"x":{"field":"year","type":"quantitative","scale":{"domain":[2018.5,2051.2],"nice":false,"zero":false},"axis":{"values":[2020,2030,2040,2050],"format":"d","title":"Year","labelPadding":4,"titlePadding":15}},"y":{"field":"lo","type":"quantitative","scale":{"domain":[0,151],"nice":false},"axis":{"values":[0,20,40,60,80,100,120,140],"title":null}},"y2":{"field":"hi"},"fill":{"field":"cause","type":"nominal","scale":{"domain":["Stroke","Intracerebral haemorrhage","Ischaemic stroke","Subarachnoid haemorrhage"],"range":["#6e7fc0","#d9756b","#accf8e","#69c0e1"]}}}},
{"transform":[{"filter":"datum.panel == 17"}],"mark":{"type":"line","interpolate":"monotone","strokeWidth":2},"encoding":{"x":{"field":"year","type":"quantitative","scale":{"domain":[2018.5,2051.2],"nice":false,"zero":false},"axis":{"values":[2020,2030,2040,2050],"format":"d","title":"Year","labelPadding":4,"titlePadding":15}},"y":{"field":"val","type":"quantitative","scale":{"domain":[0,151],"nice":false},"axis":{"values":[0,20,40,60,80,100,120,140],"title":null}},"stroke":{"field":"cause","type":"nominal","scale":{"domain":["Stroke","Intracerebral haemorrhage","Ischaemic stroke","Subarachnoid haemorrhage"],"range":["#1c4f9d","#c2163f","#58a93a","#139fd1"]}}}}
]},
{"width":255,"height":325,"title":{"text":["Latin America and Caribbean","",""]},"layer":[
{"data":{"values":[{"year":2019.5}]},"mark":{"type":"rule","strokeDash":[4,3],"color":"#4d6b7c","strokeWidth":1.5},"encoding":{"x":{"field":"year","type":"quantitative","scale":{"domain":[2018.5,2051.2],"nice":false,"zero":false}}}},
{"transform":[{"filter":"datum.panel == 18"}],"mark":{"type":"area","interpolate":"monotone","fillOpacity":0.4},"encoding":{"x":{"field":"year","type":"quantitative","scale":{"domain":[2018.5,2051.2],"nice":false,"zero":false},"axis":{"values":[2020,2030,2040,2050],"format":"d","title":"Year","labelPadding":4,"titlePadding":15}},"y":{"field":"lo","type":"quantitative","scale":{"domain":[0,57.6],"nice":false},"axis":{"values":[0,10,20,30,40,50],"title":null}},"y2":{"field":"hi"},"fill":{"field":"cause","type":"nominal","scale":{"domain":["Stroke","Intracerebral haemorrhage","Ischaemic stroke","Subarachnoid haemorrhage"],"range":["#6e7fc0","#d9756b","#accf8e","#69c0e1"]}}}},
{"transform":[{"filter":"datum.panel == 18"}],"mark":{"type":"line","interpolate":"monotone","strokeWidth":2},"encoding":{"x":{"field":"year","type":"quantitative","scale":{"domain":[2018.5,2051.2],"nice":false,"zero":false},"axis":{"values":[2020,2030,2040,2050],"format":"d","title":"Year","labelPadding":4,"titlePadding":15}},"y":{"field":"val","type":"quantitative","scale":{"domain":[0,57.6],"nice":false},"axis":{"values":[0,10,20,30,40,50],"title":null}},"stroke":{"field":"cause","type":"nominal","scale":{"domain":["Stroke","Intracerebral haemorrhage","Ischaemic stroke","Subarachnoid haemorrhage"],"range":["#1c4f9d","#c2163f","#58a93a","#139fd1"]}}}}
]},
{"width":255,"height":325,"title":{"text":["Sub-Saharan Africa","",""],"dy":6},"layer":[
{"data":{"values":[{"year":2019.5}]},"mark":{"type":"rule","strokeDash":[4,3],"color":"#4d6b7c","strokeWidth":1.5},"encoding":{"x":{"field":"year","type":"quantitative","scale":{"domain":[2018.5,2051.2],"nice":false,"zero":false}}}},
{"transform":[{"filter":"datum.panel == 19"}],"mark":{"type":"area","interpolate":"monotone","fillOpacity":0.4},"encoding":{"x":{"field":"year","type":"quantitative","scale":{"domain":[2018.5,2051.2],"nice":false,"zero":false},"axis":{"values":[2020,2030,2040,2050],"format":"d","title":"Year","labelPadding":4,"titlePadding":15}},"y":{"field":"lo","type":"quantitative","scale":{"domain":[0,120.5],"nice":false},"axis":{"values":[0,20,40,60,80,100,120],"title":null}},"y2":{"field":"hi"},"fill":{"field":"cause","type":"nominal","scale":{"domain":["Stroke","Intracerebral haemorrhage","Ischaemic stroke","Subarachnoid haemorrhage"],"range":["#6e7fc0","#d9756b","#accf8e","#69c0e1"]}}}},
{"transform":[{"filter":"datum.panel == 19"}],"mark":{"type":"line","interpolate":"monotone","strokeWidth":2},"encoding":{"x":{"field":"year","type":"quantitative","scale":{"domain":[2018.5,2051.2],"nice":false,"zero":false},"axis":{"values":[2020,2030,2040,2050],"format":"d","title":"Year","labelPadding":4,"titlePadding":15}},"y":{"field":"val","type":"quantitative","scale":{"domain":[0,120.5],"nice":false},"axis":{"values":[0,20,40,60,80,100,120],"title":null}},"stroke":{"field":"cause","type":"nominal","scale":{"domain":["Stroke","Intracerebral haemorrhage","Ischaemic stroke","Subarachnoid haemorrhage"],"range":["#1c4f9d","#c2163f","#58a93a","#139fd1"]}}}}
]},
{"width":255,"height":325,"title":{"text":["Low-income and middle-","income countries (World","Bank)"],"dy":6},"layer":[
{"data":{"values":[{"year":2019.5}]},"mark":{"type":"rule","strokeDash":[4,3],"color":"#4d6b7c","strokeWidth":1.5},"encoding":{"x":{"field":"year","type":"quantitative","scale":{"domain":[2018.5,2051.2],"nice":false,"zero":false}}}},
{"transform":[{"filter":"datum.panel == 20"}],"mark":{"type":"area","interpolate":"monotone","fillOpacity":0.4},"encoding":{"x":{"field":"year","type":"quantitative","scale":{"domain":[2018.5,2051.2],"nice":false,"zero":false},"axis":{"values":[2020,2030,2040,2050],"format":"d","title":"Year","labelPadding":4,"titlePadding":15}},"y":{"field":"lo","type":"quantitative","scale":{"domain":[0,120.5],"nice":false},"axis":{"values":[0,20,40,60,80,100,120],"title":null}},"y2":{"field":"hi"},"fill":{"field":"cause","type":"nominal","scale":{"domain":["Stroke","Intracerebral haemorrhage","Ischaemic stroke","Subarachnoid haemorrhage"],"range":["#6e7fc0","#d9756b","#accf8e","#69c0e1"]}}}},
{"transform":[{"filter":"datum.panel == 20"}],"mark":{"type":"line","interpolate":"monotone","strokeWidth":2},"encoding":{"x":{"field":"year","type":"quantitative","scale":{"domain":[2018.5,2051.2],"nice":false,"zero":false},"axis":{"values":[2020,2030,2040,2050],"format":"d","title":"Year","labelPadding":4,"titlePadding":15}},"y":{"field":"val","type":"quantitative","scale":{"domain":[0,120.5],"nice":false},"axis":{"values":[0,20,40,60,80,100,120],"title":null}},"stroke":{"field":"cause","type":"nominal","scale":{"domain":["Stroke","Intracerebral haemorrhage","Ischaemic stroke","Subarachnoid haemorrhage"],"range":["#1c4f9d","#c2163f","#58a93a","#139fd1"]}}}}
]}
],"spacing":97,"bounds":"flush"}
],
"spacing":38.5,
"config":{
"font":"Roboto",
"view":{"stroke":null},
"axis":{"domainColor":"#231f20","domainWidth":1.6,"tickColor":"#231f20","tickWidth":1.5,"tickSize":10,"labelColor":"#231f20","labelFontSize":19,"labelFont":"Roboto","titleFont":"Roboto","titleFontSize":19,"titleFontWeight":"normal","titleColor":"#231f20","grid":false},
"title":{"anchor":"start","frame":"group","fontSize":19,"fontWeight":"normal","color":"#231f20","lineHeight":26,"offset":16,"font":"Roboto"}
}
}
